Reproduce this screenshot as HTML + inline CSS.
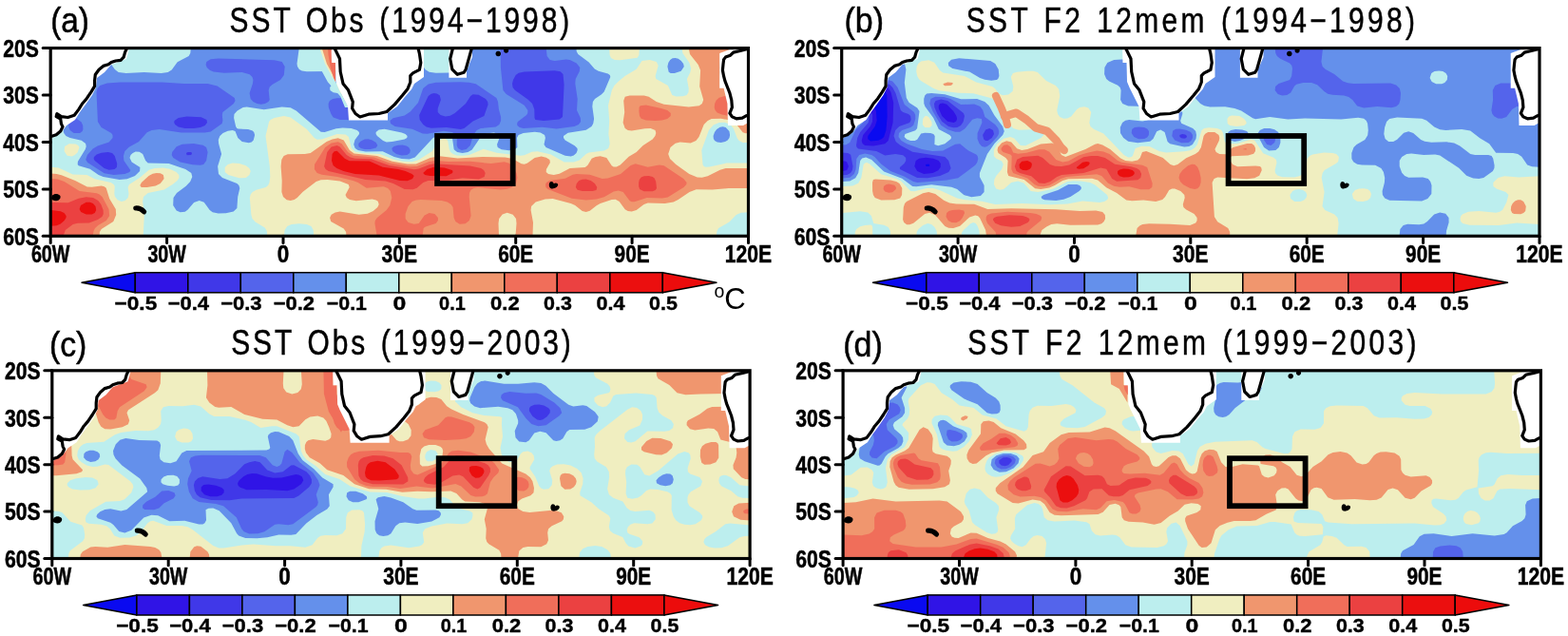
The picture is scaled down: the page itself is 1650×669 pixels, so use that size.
<!DOCTYPE html>
<html><head><meta charset="utf-8"><title>SST</title><style>
html,body{margin:0;padding:0;background:#fff;}
svg{display:block}
text{font-family:'Liberation Sans', Arial, Helvetica, sans-serif;fill:#000}
.ax{font-weight:bold;font-size:25px;stroke:#000;stroke-width:0.5px}
.tl{font-size:36.5px;stroke:#000;stroke-width:0.5px}
.cb{font-weight:bold;font-size:20.5px;stroke:#000;stroke-width:0.4px}
.deg{font-size:19.5px}
.degc{font-size:31px}
</style></head><body>
<svg width="1650" height="669" viewBox="0 0 1650 669">
<g transform="translate(0,0)">
<clipPath id="clipa"><rect x="53.2" y="50.6" width="734.3" height="197.70000000000002"/></clipPath>
<g clip-path="url(#clipa)">
<rect x="53.2" y="50.6" width="734.3" height="197.70000000000002" fill="#0a0af0"/>
<rect x="53.2" y="50.6" width="734.3" height="197.70000000000002" fill="#3014e6"/>
<rect x="53.2" y="50.6" width="734.3" height="197.70000000000002" fill="#4038e8"/>
<path fill="#5464eb" fill-rule="evenodd" d="M787.7,248.1 53.7,248.2 53.7,51.1 787.7,51.1 787.7,248.1ZM572.1,127.1 588.7,125.4 592.0,123.1 593.6,89.1 592.5,78.1 589.7,75.3 583.7,74.2 551.7,75.4 545.7,76.8 542.7,79.1 540.0,84.1 539.0,88.1 539.6,92.1 542.0,95.1 555.7,104.7 560.1,109.1 562.3,115.1 562.5,124.1 563.4,126.1 572.1,127.1ZM488.4,135.1 497.7,127.5 509.4,122.1 513.6,110.1 513.2,107.1 511.0,104.1 503.7,99.7 497.7,99.2 495.2,101.1 490.0,109.1 478.7,118.9 473.7,121.8 468.7,122.6 463.6,121.1 460.7,118.1 460.7,114.1 463.9,105.1 462.7,100.3 459.7,98.4 456.7,98.1 453.7,98.7 450.7,100.9 441.2,121.1 441.7,126.1 445.3,131.1 448.7,133.5 453.7,134.8 469.7,134.0 484.7,136.0 488.4,135.1ZM204.0,135.1 210.9,134.1 215.7,132.1 218.0,129.1 217.5,126.1 211.7,123.3 196.7,122.5 187.7,123.9 183.5,127.1 183.2,129.1 184.2,131.1 187.7,133.4 194.7,135.0 204.0,135.1ZM120.5,178.1 122.9,176.1 123.2,172.1 120.7,164.1 118.1,161.1 113.7,160.0 106.7,160.7 101.7,162.6 99.0,165.1 98.6,167.1 99.7,169.1 109.7,177.1 114.7,178.8 120.5,178.1ZM201.2,163.1 202.1,161.1 201.0,160.1 197.7,159.9 195.9,161.1 196.7,163.3 201.2,163.1Z"/>
<path fill="#6490eb" fill-rule="evenodd" d="M787.7,248.1 53.7,248.2 53.7,51.1 526.7,51.1 526.9,71.1 529.4,95.1 532.7,98.9 551.7,110.8 555.4,116.1 555.3,119.1 554.1,121.1 544.9,128.1 544.1,130.1 544.4,132.1 546.8,134.1 550.7,135.0 570.7,133.7 585.7,135.6 604.3,133.1 608.9,131.1 611.1,128.1 610.8,124.1 607.0,116.1 607.7,104.1 605.3,88.1 605.7,83.1 609.8,75.1 610.3,71.1 606.7,66.4 599.7,62.9 595.7,62.6 583.7,64.1 578.7,62.9 575.6,59.1 574.8,51.1 787.7,51.1 787.7,248.1ZM278.9,109.1 282.5,107.1 283.7,105.1 282.7,95.1 283.7,91.6 286.4,89.1 295.1,84.1 298.8,79.1 299.7,70.1 296.7,65.1 288.7,63.2 229.7,61.6 221.7,62.3 217.3,65.1 216.6,68.1 217.7,71.1 220.7,73.7 224.7,75.4 235.7,76.7 254.7,76.0 262.7,78.3 265.5,81.1 266.4,84.1 265.9,88.1 262.6,98.1 263.7,104.1 266.4,107.1 270.5,109.1 274.7,109.7 278.9,109.1ZM131.3,183.1 136.4,181.1 137.3,179.1 130.4,169.1 129.9,164.1 131.4,159.1 135.7,154.8 146.1,149.1 154.7,139.2 159.7,137.1 167.7,136.1 190.7,139.6 215.7,139.6 221.7,138.5 233.6,130.1 234.4,127.1 233.8,121.1 234.4,118.1 245.9,109.1 247.5,106.1 246.8,103.1 228.7,90.6 218.7,87.9 193.7,88.1 170.7,86.4 126.7,86.5 112.7,87.5 105.2,90.1 102.5,93.1 101.5,97.1 102.9,128.1 106.6,134.1 117.1,140.1 118.5,142.1 118.6,145.1 114.7,149.6 102.7,153.6 97.7,156.6 91.9,163.1 90.2,168.1 92.2,171.1 109.7,182.3 119.7,184.0 131.3,183.1ZM490.7,157.1 494.8,153.1 498.0,142.1 501.7,136.9 505.9,135.1 521.7,133.4 525.4,131.1 527.1,127.1 527.1,123.1 524.9,115.1 524.0,107.1 522.4,103.1 500.7,88.2 493.7,86.7 484.7,86.3 458.7,86.8 450.7,88.5 445.2,93.1 440.0,108.1 431.7,117.6 425.7,121.4 413.7,124.3 410.4,127.1 411.0,130.1 415.7,133.0 433.7,135.7 444.7,140.6 449.7,140.8 466.7,137.8 475.7,139.1 479.3,141.1 480.9,143.1 480.7,153.1 482.0,156.1 485.7,157.9 490.7,157.1ZM369.1,126.1 374.2,124.1 381.7,116.6 394.0,111.1 395.9,108.1 395.1,105.1 390.7,102.9 383.7,102.4 354.7,103.2 350.2,104.1 346.9,106.1 345.6,109.1 345.8,113.1 348.4,120.1 350.7,123.4 357.7,126.1 369.1,126.1ZM84.1,140.1 86.7,138.1 87.4,136.1 87.2,132.1 85.7,128.5 80.7,124.8 77.7,124.3 74.7,125.3 73.1,127.1 72.1,130.1 72.4,134.1 73.7,137.1 77.7,140.1 84.1,140.1ZM389.8,157.1 395.7,155.4 397.3,153.1 395.7,150.1 391.7,147.4 387.7,146.3 383.7,146.6 379.7,148.4 377.3,151.1 377.4,154.1 379.8,156.1 383.7,157.1 389.8,157.1ZM214.2,173.1 217.1,169.1 218.6,160.1 217.1,155.1 213.7,152.7 203.7,151.1 191.7,151.7 185.7,154.3 181.2,160.1 180.7,163.1 182.3,166.1 189.7,170.5 202.7,173.3 210.7,173.8 214.2,173.1ZM428.4,163.1 431.2,161.1 431.8,158.1 430.2,155.1 427.7,153.4 423.7,152.5 418.7,152.8 414.5,154.1 412.3,156.1 413.1,159.1 417.1,162.1 422.7,163.6 428.4,163.1Z"/>
<path fill="#bceeee" fill-rule="evenodd" d="M176.7,76.1 169.7,77.0 151.7,76.1 132.7,77.0 124.7,75.9 120.8,73.1 115.7,65.7 103.7,58.9 101.9,56.1 101.3,51.1 200.8,51.1 200.3,56.1 198.6,59.1 186.7,65.3 180.7,73.6 176.7,76.1ZM346.7,75.1 322.7,75.3 317.7,74.5 314.9,73.1 313.0,70.1 312.5,67.1 314.7,51.1 380.6,51.1 379.8,57.1 376.7,60.8 367.7,65.4 357.7,73.0 346.7,75.1ZM486.7,76.3 458.7,76.7 451.7,75.7 447.7,73.3 442.5,66.1 438.7,63.5 433.7,62.7 420.7,63.0 415.7,61.4 411.9,57.1 411.2,51.1 493.3,51.1 493.3,70.1 491.2,74.1 486.7,76.3ZM787.7,248.1 53.7,248.1 53.7,123.6 59.7,124.1 63.7,126.7 65.2,130.1 67.2,140.1 69.4,143.1 73.7,145.0 85.7,147.7 90.1,151.1 90.7,154.1 89.8,157.1 81.9,170.1 81.7,173.1 82.7,174.3 94.7,177.8 103.7,183.9 108.7,185.9 125.7,189.0 133.7,188.3 142.0,185.1 147.1,180.1 147.4,176.1 138.7,170.5 136.5,166.1 137.5,163.1 139.7,160.9 142.7,159.6 146.7,159.7 150.2,162.1 153.2,169.1 155.7,171.4 177.7,171.9 195.2,178.1 201.3,182.1 202.3,186.1 200.2,191.1 195.7,195.8 186.0,203.1 182.5,208.1 182.2,216.1 185.7,221.6 189.7,223.2 194.7,222.7 197.7,220.6 204.1,213.1 209.7,211.0 214.7,212.7 220.7,221.1 223.7,223.3 229.7,224.5 237.7,224.2 245.7,222.5 249.4,219.1 250.2,207.1 252.3,198.1 251.4,195.1 249.4,193.1 234.0,187.1 230.0,183.1 229.1,175.1 233.1,162.1 230.1,151.1 229.8,147.1 231.4,143.1 234.6,140.1 239.7,137.8 244.7,137.1 247.5,138.1 250.3,145.1 254.7,149.1 261.7,150.3 264.7,149.4 266.7,147.6 268.1,142.1 267.2,139.1 265.7,137.5 261.1,136.1 250.7,135.6 249.3,135.1 248.1,133.1 246.1,124.1 246.5,120.1 249.7,116.6 255.7,113.1 259.7,112.6 277.7,115.2 296.7,112.4 305.7,113.3 311.7,116.6 337.7,138.8 341.7,139.1 353.7,135.3 360.7,134.4 369.7,135.0 375.8,137.1 377.9,139.1 378.0,141.1 373.5,147.1 372.2,152.1 373.7,155.9 376.7,158.0 384.7,159.4 402.7,159.2 414.8,165.1 422.7,167.1 430.7,167.4 436.7,165.6 455.8,145.1 463.7,141.5 469.7,141.3 474.1,143.1 476.1,146.1 477.7,157.2 481.1,160.1 486.7,161.1 492.4,160.1 496.7,157.6 505.9,144.1 511.7,140.4 519.7,139.6 524.8,141.1 526.0,144.1 523.0,152.1 523.7,155.1 527.7,157.3 535.7,158.3 541.7,157.3 544.4,155.1 544.0,145.1 545.6,142.1 550.7,140.1 562.7,138.8 568.7,139.4 573.1,142.1 573.9,145.1 572.5,152.1 574.5,155.1 594.7,163.8 600.7,164.6 603.7,163.6 606.5,161.1 607.7,158.1 607.5,156.1 604.7,153.2 594.7,147.4 593.0,145.1 593.0,143.1 597.7,139.7 616.7,136.7 622.5,133.1 624.2,130.1 625.1,125.1 623.3,112.1 623.9,107.1 626.0,104.1 632.7,99.6 635.7,96.4 642.3,81.1 641.8,79.1 639.7,77.5 629.7,74.8 625.7,72.5 619.7,65.5 608.3,57.1 606.7,54.1 606.5,51.1 787.7,51.1 787.7,248.1ZM709.8,77.1 716.7,74.7 719.8,70.1 719.1,67.1 716.8,64.1 713.7,61.8 710.7,60.9 707.7,61.3 705.2,63.1 703.3,66.1 702.4,70.1 703.7,75.7 705.7,76.9 709.8,77.1ZM367.7,98.1 356.7,98.3 350.7,97.3 347.4,95.1 347.1,92.1 349.7,89.0 355.7,86.8 379.7,85.4 390.7,86.5 394.0,88.1 396.2,91.1 396.3,93.1 395.2,95.1 390.7,97.1 367.7,98.1ZM763.1,149.1 765.7,147.6 767.5,145.1 768.1,142.1 767.4,138.1 763.7,133.9 760.7,133.2 757.7,133.8 754.2,136.1 752.0,139.1 750.6,143.1 750.9,146.1 752.1,148.1 754.7,149.6 758.7,150.0 763.1,149.1ZM412.7,149.1 406.7,149.4 403.1,148.1 396.9,143.1 395.6,141.1 395.6,139.1 398.7,136.5 404.7,135.8 422.7,139.5 426.6,141.1 428.6,143.1 428.3,145.1 425.7,146.6 412.7,149.1Z"/>
<path fill="#f0eec0" fill-rule="evenodd" d="M652.7,63.2 646.7,63.0 643.0,61.1 641.6,58.1 641.2,51.1 672.9,51.1 672.4,58.1 670.7,60.7 652.7,63.2ZM753.7,248.1 330.2,248.1 329.7,242.1 327.5,238.1 322.7,235.9 314.7,235.2 306.7,236.1 302.3,238.1 299.6,242.1 299.0,248.1 281.2,248.1 280.8,243.1 278.7,239.4 268.7,233.5 265.5,230.1 264.4,226.1 262.8,208.1 263.7,204.5 265.7,201.9 269.7,199.7 279.7,197.1 282.1,195.1 283.5,192.1 284.3,186.1 283.8,175.1 279.5,143.1 283.1,128.1 284.7,125.9 288.7,123.9 298.7,122.1 305.7,123.5 322.9,136.1 330.7,145.0 333.7,146.7 338.7,146.5 354.7,141.0 363.7,141.6 366.9,144.1 369.7,155.8 373.7,159.4 380.7,161.1 399.7,162.1 413.7,167.6 423.7,169.7 433.7,170.2 440.8,168.1 454.8,159.1 461.3,148.1 466.7,145.6 469.7,146.4 471.2,148.1 472.8,157.1 474.2,160.1 476.7,162.1 480.7,163.4 486.7,163.8 493.7,163.0 508.7,156.7 522.7,160.8 547.7,163.7 551.7,163.2 559.7,159.8 565.7,159.3 579.7,162.5 593.7,170.5 603.7,170.6 609.7,168.6 616.7,162.1 619.7,160.4 635.7,158.5 640.3,156.1 641.7,151.1 640.4,141.1 641.2,127.1 640.0,111.1 643.8,95.1 646.4,90.1 650.7,85.7 657.6,80.1 669.7,72.7 675.5,64.1 683.7,63.1 690.8,65.1 692.7,69.1 689.6,80.1 690.3,83.1 702.9,90.1 707.3,100.1 711.7,101.4 718.7,101.2 722.7,99.9 724.5,97.1 724.7,93.1 722.9,83.1 726.4,76.1 727.2,72.1 725.4,66.1 718.4,56.1 717.6,51.1 787.7,51.1 787.7,150.1 781.7,149.9 777.7,148.1 775.7,145.2 771.8,135.1 768.5,131.1 762.7,128.8 756.7,128.9 750.7,131.5 745.9,137.1 738.3,158.1 739.5,173.1 740.7,174.9 742.7,175.7 746.7,175.6 764.7,171.5 787.7,171.5 787.7,223.2 779.7,223.7 774.7,226.1 767.7,233.3 756.1,240.1 754.5,243.1 753.7,248.1ZM75.7,164.4 70.7,163.7 67.6,159.1 68.1,154.1 72.7,151.2 79.7,151.6 82.3,153.1 83.5,155.1 81.7,160.3 78.7,163.1 75.7,164.4ZM258.7,187.1 251.7,187.3 240.3,184.1 236.7,181.0 236.7,176.1 239.7,173.0 244.7,171.5 251.7,171.9 258.4,174.1 262.4,177.1 263.7,180.1 262.5,184.1 258.7,187.1ZM150.7,248.1 53.7,248.1 53.7,175.7 61.7,176.6 76.7,183.6 91.5,184.1 99.7,188.3 116.7,192.1 119.7,194.1 120.8,196.1 120.3,204.1 121.1,207.1 123.7,210.2 127.7,212.0 131.7,211.1 134.7,208.0 135.5,204.1 134.6,197.1 136.0,194.1 146.7,187.2 156.7,178.7 162.7,176.9 171.7,176.5 178.7,177.8 185.5,181.1 188.3,184.1 188.5,187.1 186.5,190.1 181.6,194.1 172.7,199.5 155.7,203.0 151.0,207.1 150.1,212.1 151.9,225.1 150.7,248.1Z"/>
<path fill="#f0966e" fill-rule="evenodd" d="M559.7,248.1 542.5,248.1 543.5,235.1 543.0,230.1 539.7,225.7 533.7,223.8 528.7,225.5 525.2,230.1 524.5,235.1 525.0,248.1 364.4,248.1 364.1,244.1 361.7,240.4 348.2,233.1 347.1,229.1 348.7,225.8 352.7,223.4 357.7,222.6 377.7,225.7 386.7,224.8 392.7,221.9 397.3,218.1 398.7,215.1 397.7,211.8 395.7,210.4 391.7,209.6 374.7,211.2 368.0,210.1 364.9,208.1 363.5,205.1 367.7,197.1 366.7,194.1 357.7,190.5 344.7,188.9 337.7,189.3 332.7,191.1 318.7,201.7 312.7,208.1 309.7,210.1 305.7,210.9 301.7,210.2 298.0,207.1 296.4,202.1 296.7,190.1 295.6,175.1 296.3,168.1 298.6,164.1 302.7,162.2 320.7,162.1 326.7,161.0 343.7,149.1 349.7,146.4 355.7,145.3 361.7,147.4 367.9,158.1 372.7,161.6 396.7,164.0 412.7,169.7 428.7,172.6 437.7,172.4 452.7,166.1 462.7,164.3 481.7,166.5 507.7,165.0 531.7,165.4 539.3,167.1 548.7,172.3 551.7,172.8 554.7,171.8 562.7,165.9 569.7,164.6 574.7,165.7 578.4,168.1 578.9,171.1 574.9,178.1 574.7,181.1 577.0,183.1 582.7,183.9 588.7,182.8 599.7,176.9 615.7,175.9 618.3,174.1 622.7,166.7 626.7,164.9 631.7,164.3 638.3,166.1 643.7,174.3 645.7,175.5 648.7,175.5 652.7,173.5 661.7,164.8 669.7,160.1 676.7,153.1 686.7,146.4 689.4,143.1 690.3,140.1 689.5,137.1 684.7,135.1 678.7,135.2 664.7,137.4 660.7,136.9 657.7,135.1 655.6,129.1 657.2,118.1 656.2,106.1 657.7,101.7 662.7,100.4 677.7,100.6 682.7,101.7 690.7,107.1 698.7,109.7 724.7,112.4 735.7,111.3 738.8,109.1 740.2,105.1 736.2,91.1 737.1,74.1 734.7,68.1 726.0,57.1 724.8,51.1 787.7,51.1 787.7,140.1 784.7,140.3 781.7,139.3 774.3,130.1 768.7,126.6 758.7,124.7 748.7,125.1 744.7,127.1 740.7,131.1 735.5,144.1 732.4,148.1 726.7,150.4 715.7,149.6 710.7,150.7 705.5,155.1 703.2,162.1 705.0,167.1 711.3,173.1 725.3,183.1 733.7,186.6 738.7,186.7 744.7,185.3 757.7,178.8 763.7,177.0 787.7,177.1 787.7,198.1 766.7,198.1 749.7,199.6 732.7,199.2 725.5,202.1 713.7,210.1 708.7,212.5 699.7,214.0 681.7,213.4 677.6,215.1 669.7,221.0 664.7,222.5 660.7,221.9 657.7,220.2 651.7,212.0 647.7,209.7 643.7,210.1 631.7,214.1 627.7,216.2 620.7,221.8 616.7,222.9 612.7,222.0 605.2,216.1 600.7,214.1 581.7,209.0 573.7,209.5 563.7,212.6 559.1,217.1 558.6,221.1 561.0,234.1 560.5,248.1 559.7,248.1ZM154.7,197.1 148.7,197.1 147.3,195.1 148.9,192.1 156.5,185.1 160.7,182.7 164.7,181.9 168.7,182.3 171.9,184.1 172.6,188.1 168.7,193.1 163.7,195.5 154.7,197.1ZM103.7,248.1 53.7,248.1 53.7,182.5 59.7,182.9 64.7,184.3 79.1,190.1 91.7,196.5 96.7,196.8 106.7,195.6 109.7,196.2 111.7,197.7 115.2,209.1 121.8,220.1 122.2,226.1 119.3,233.1 106.7,241.1 104.9,244.1 104.6,248.1 103.7,248.1Z"/>
<path fill="#f06e5a" fill-rule="evenodd" d="M787.7,126.9 782.7,126.7 774.7,123.5 759.7,120.5 754.7,118.4 752.6,116.1 751.7,113.1 752.1,109.1 753.7,105.6 756.7,102.7 762.7,100.9 787.7,100.3 787.7,126.9ZM689.7,127.1 679.7,126.5 674.7,124.8 673.0,122.1 672.4,117.1 672.6,113.1 673.7,111.3 679.7,110.4 695.8,114.1 702.3,116.1 705.8,119.1 705.7,122.1 702.2,125.1 696.7,126.6 689.7,127.1ZM443.7,248.1 396.6,248.1 394.4,235.1 394.8,232.1 396.9,229.1 406.7,221.1 410.3,216.1 412.3,208.1 410.8,201.1 408.1,198.1 403.7,196.2 385.7,197.8 376.7,192.1 371.5,190.1 355.1,186.1 338.7,183.7 333.7,182.0 330.9,178.1 331.0,173.1 342.2,155.1 348.7,150.4 355.7,149.3 359.7,151.2 366.1,160.1 371.7,163.8 393.7,165.6 409.7,171.4 431.7,175.3 438.7,174.9 451.7,170.0 458.7,169.0 471.7,170.0 494.7,169.8 516.7,172.0 530.7,170.2 535.7,171.7 539.4,175.1 543.5,182.1 544.4,187.1 542.9,193.1 538.7,197.0 533.7,198.7 526.7,199.4 502.7,197.2 498.4,198.1 495.4,200.1 494.0,203.1 493.7,207.1 495.6,227.1 493.8,232.1 489.7,235.2 483.7,235.7 479.3,233.1 477.6,229.1 476.6,218.1 474.6,215.1 470.7,212.5 464.7,211.1 442.7,210.0 437.7,210.4 433.7,212.1 429.5,217.1 426.6,225.1 426.7,230.2 429.7,234.0 435.7,235.7 440.7,235.0 446.7,226.5 451.7,223.9 457.4,225.1 460.9,229.1 460.9,232.1 458.7,234.9 447.7,238.5 445.7,240.1 444.6,248.1 443.7,248.1ZM667.7,212.3 664.7,212.3 662.7,211.3 655.7,202.1 650.7,200.5 645.7,201.4 635.7,207.2 627.7,209.4 616.7,210.6 601.7,208.8 576.5,199.1 574.4,197.1 574.0,194.1 575.0,192.1 578.2,190.1 594.7,187.8 602.7,183.7 606.7,182.9 620.7,183.8 633.7,187.9 639.7,187.5 653.1,183.1 663.7,173.9 668.7,172.3 681.7,175.7 693.7,173.6 698.7,174.3 719.3,188.1 722.6,192.1 722.3,194.1 719.5,197.1 702.7,207.5 696.7,208.6 680.7,208.0 667.7,212.3ZM97.7,248.1 53.7,248.1 53.7,188.1 60.7,188.6 67.7,191.0 83.7,201.0 101.7,203.3 104.7,204.5 107.7,207.3 114.5,220.1 115.2,227.1 111.8,232.1 103.3,237.1 100.0,240.1 98.5,243.1 97.7,248.1Z"/>
<path fill="#eb4141" fill-rule="evenodd" d="M434.7,199.3 425.7,198.9 413.8,193.1 405.7,190.5 384.7,188.9 345.7,179.9 342.6,178.1 341.1,175.1 344.3,160.1 348.7,154.6 354.7,153.1 357.7,154.6 364.7,163.0 368.7,165.6 373.7,166.8 390.7,167.2 409.7,173.9 435.7,178.3 440.7,177.6 451.7,173.2 456.7,172.3 494.7,174.6 506.2,177.1 509.1,179.1 510.7,182.1 509.7,186.1 503.7,188.6 486.7,187.3 471.7,189.7 450.6,190.1 445.3,192.1 438.7,197.8 434.7,199.3ZM686.7,201.2 677.7,201.3 673.1,199.1 672.1,196.1 672.1,192.1 672.8,189.1 674.7,186.5 677.7,185.2 682.7,185.0 686.7,185.9 688.7,187.5 690.2,191.1 691.0,198.1 689.7,200.1 686.7,201.2ZM623.7,201.1 612.7,200.9 607.7,199.8 605.8,197.1 606.8,193.1 609.3,190.1 612.7,188.7 616.7,188.5 621.7,190.0 625.9,193.1 628.3,197.1 627.5,200.1 623.7,201.1ZM66.7,248.1 53.7,248.1 53.7,212.9 71.7,213.2 82.7,208.7 90.7,207.3 98.0,208.1 103.3,211.1 106.3,215.1 108.6,221.1 108.8,225.1 107.4,228.1 102.9,231.1 93.7,234.4 81.7,234.8 76.7,236.1 68.8,242.1 66.7,248.1Z"/>
<path fill="#eb0f0f" fill-rule="evenodd" d="M428.7,190.2 420.7,189.9 398.7,184.5 373.7,183.1 361.5,180.1 354.4,177.1 350.6,174.1 349.0,169.1 349.6,162.1 351.7,159.3 354.7,158.8 362.7,166.7 367.7,169.2 388.7,169.6 402.7,175.8 419.1,178.1 426.7,180.1 433.5,183.1 435.7,185.1 434.1,188.1 428.7,190.2ZM469.7,185.2 452.6,185.1 447.1,184.1 445.2,182.1 449.5,178.1 456.7,175.7 467.7,176.5 475.7,179.1 476.5,180.1 476.1,182.1 469.7,185.2ZM96.7,225.4 90.7,225.5 85.2,223.1 83.6,220.1 85.0,216.1 90.7,212.8 94.7,212.7 97.9,214.1 100.5,217.1 101.2,221.1 99.7,223.9 96.7,225.4ZM59.7,237.2 53.7,237.8 53.7,221.0 63.7,222.2 67.5,224.1 69.7,227.1 69.6,229.1 67.7,232.1 63.7,235.4 59.7,237.2Z"/>
<polygon fill="#bceeee" points="330.0,50.6 353.0,50.6 353.0,86.0 357.0,95.0 362.0,104.0 367.0,113.0 363.0,113.0 358.3,101.6 344.9,86.3 334.4,67.1 330.0,60.0"/>
<polygon fill="#f0eec0" points="336.3,50.6 353.0,50.6 353.0,86.0 357.0,95.0 362.0,104.0 364.5,108.0 360.2,97.8 355.4,90.1 348.7,79.6 342.0,67.1"/>
<polygon fill="#f0966e" points="338.7,50.6 353.0,50.6 353.5,86.3 350.6,79.6 343.9,67.1"/>
<polygon fill="#f06e5a" points="345.0,50.6 349.0,50.6 349.0,66.0 353.0,66.0 353.0,86.0 351.0,82.0 347.5,70.0 345.5,58.0"/>
<polygon fill="#fff" points="348.7,50.6 348.7,55.0 349.0,66.0 353.0,66.0 353.5,86.0 356.0,92.0 362.0,104.0 366.0,112.0 367.0,126.5 408.0,126.5 408.0,119.0 418.0,112.0 426.0,102.0 433.0,94.0 436.0,88.0 446.0,81.0 446.0,50.6"/>
<polygon fill="#fff" points="472.4,50.6 472.4,81.7 491.0,81.7 491.0,74.0 497.0,60.0 497.0,50.6"/>
<polygon fill="#fff" points="787.5,50.6 772.0,50.6 757.2,56.0 757.2,92.8 761.6,92.8 765.4,109.0 766.0,132.0 782.0,132.0 787.5,129.0"/>
<polygon fill="#fff" points="53.2,50.6 136.0,50.6 133.0,62.0 117.0,68.0 110.0,76.0 102.0,82.0 101.0,92.0 97.0,100.0 90.0,110.0 84.0,118.0 79.0,126.0 70.0,132.0 64.0,140.0 53.2,146.0"/>
<polygon fill="#fff" points="133.6,50.6 131.6,54.9 130.1,60.2 127.0,63.3 121.7,64.0 117.1,65.5 114.1,67.8 108.7,69.4 104.1,73.2 100.3,78.5 99.6,84.6 99.6,90.7 95.8,96.8 91.2,103.7 86.6,109.0 82.8,115.1 78.2,121.2 71.4,123.5 64.5,122.7 59.9,119.7 59.2,122.7 63.7,125.0 64.5,130.4 66.0,133.4 63.7,138.0 59.2,141.8 54.6,143.3 53.2,143.8 53.2,50.6"/>
<polyline fill="none" stroke="#000" stroke-width="3.2" stroke-linejoin="round" stroke-linecap="round" points="133.6,50.6 131.6,54.9 130.1,60.2 127.0,63.3 121.7,64.0 117.1,65.5 114.1,67.8 108.7,69.4 104.1,73.2 100.3,78.5 99.6,84.6 99.6,90.7 95.8,96.8 91.2,103.7 86.6,109.0 82.8,115.1 78.2,121.2 71.4,123.5 64.5,122.7 59.9,119.7 59.2,122.7 63.7,125.0 64.5,130.4 66.0,133.4 63.7,138.0 59.2,141.8 54.6,143.3 53.2,143.8"/>
<polygon fill="#fff" points="352.0,50.6 357.5,61.8 358.2,75.5 361.0,87.9 366.5,94.8 371.3,107.1 370.6,114.0 374.0,119.5 378.8,123.0 387.8,120.2 398.8,119.5 407.0,117.5 415.3,109.9 423.5,100.3 429.0,93.4 431.8,86.5 431.8,79.6 434.5,76.9 441.4,73.4 442.8,65.9 441.4,56.3 440.0,50.6"/>
<polyline fill="none" stroke="#000" stroke-width="3.2" stroke-linejoin="round" stroke-linecap="round" points="352.0,50.6 357.5,61.8 358.2,75.5 361.0,87.9 366.5,94.8 371.3,107.1 370.6,114.0 374.0,119.5 378.8,123.0 387.8,120.2 398.8,119.5 407.0,117.5 415.3,109.9 423.5,100.3 429.0,93.4 431.8,86.5 431.8,79.6 434.5,76.9 441.4,73.4 442.8,65.9 441.4,56.3 440.0,50.6"/>
<polygon fill="#fff" points="476.5,50.6 473.7,61.8 475.8,72.8 481.3,78.3 488.2,76.2 490.2,72.8 493.7,60.4 496.4,50.6"/>
<polyline fill="none" stroke="#000" stroke-width="3.2" stroke-linejoin="round" stroke-linecap="round" points="476.5,50.6 473.7,61.8 475.8,72.8 481.3,78.3 488.2,76.2 490.2,72.8 493.7,60.4 496.4,50.6"/>
<polygon fill="#fff" points="787.5,51.3 779.9,53.2 771.7,55.1 768.6,58.2 763.5,60.1 761.6,62.6 761.0,67.6 760.4,73.9 761.6,80.2 762.9,85.2 765.4,91.5 767.9,97.8 769.8,105.3 770.4,112.9 767.9,119.2 770.4,122.9 774.8,124.8 781.1,124.2 785.5,121.7 787.5,121.0"/>
<polyline fill="none" stroke="#000" stroke-width="3.2" stroke-linejoin="round" stroke-linecap="round" points="787.5,51.3 779.9,53.2 771.7,55.1 768.6,58.2 763.5,60.1 761.6,62.6 761.0,67.6 760.4,73.9 761.6,80.2 762.9,85.2 765.4,91.5 767.9,97.8 769.8,105.3 770.4,112.9 767.9,119.2 770.4,122.9 774.8,124.8 781.1,124.2 785.5,121.7 787.5,121.0"/>
<path d="M55,205.5 C57,203.5 61,203.3 63.2,205.8 C64.5,208 62.5,211.2 59,211.3 C56.5,211.3 54.5,210 53.5,209 Z" fill="#000"/>
<path d="M142.8,219 C145.5,218.8 149,220 151.6,222.8" fill="none" stroke="#000" stroke-width="5.2" stroke-linecap="round"/>
<path d="M578.3,192.3 C579.5,190.3 582,190.8 582.8,193.2 C584.2,191.8 587.3,192.3 587.2,194.6 C586.8,197.2 583.2,198.8 580.2,198.4 C577.8,198 577.3,194.2 578.3,192.3 Z" fill="#000"/>
<path d="M524.3,53.7 a2.8,2.8 0 1,0 0.01,0 Z" fill="#000"/>
<path d="M532.6,50.5 a2.6,2.6 0 1,0 0.01,0 Z" fill="#000"/>
</g>
<rect x="460.1" y="143" width="79.6" height="50" fill="none" stroke="#000" stroke-width="5.8"/>
<rect x="53.2" y="50.6" width="734.3" height="197.70000000000002" fill="none" stroke="#000" stroke-width="3.2"/>
<line x1="45.2" y1="50.6" x2="53.2" y2="50.6" stroke="#000" stroke-width="3" stroke-linecap="round"/>
<text x="41" y="60.0" text-anchor="end" class="ax" textLength="37.7" lengthAdjust="spacingAndGlyphs">20S</text>
<line x1="45.2" y1="100.025" x2="53.2" y2="100.025" stroke="#000" stroke-width="3" stroke-linecap="round"/>
<text x="41" y="109.4" text-anchor="end" class="ax" textLength="37.7" lengthAdjust="spacingAndGlyphs">30S</text>
<line x1="45.2" y1="149.45000000000002" x2="53.2" y2="149.45000000000002" stroke="#000" stroke-width="3" stroke-linecap="round"/>
<text x="41" y="158.9" text-anchor="end" class="ax" textLength="37.7" lengthAdjust="spacingAndGlyphs">40S</text>
<line x1="45.2" y1="198.87500000000003" x2="53.2" y2="198.87500000000003" stroke="#000" stroke-width="3" stroke-linecap="round"/>
<text x="41" y="208.3" text-anchor="end" class="ax" textLength="37.7" lengthAdjust="spacingAndGlyphs">50S</text>
<line x1="45.2" y1="248.3" x2="53.2" y2="248.3" stroke="#000" stroke-width="3" stroke-linecap="round"/>
<text x="41" y="257.7" text-anchor="end" class="ax" textLength="37.7" lengthAdjust="spacingAndGlyphs">60S</text>
<line x1="53.2" y1="248.3" x2="53.2" y2="255.6" stroke="#000" stroke-width="3" stroke-linecap="round"/>
<text x="53.2" y="276.2" text-anchor="middle" class="ax" textLength="40.6" lengthAdjust="spacingAndGlyphs">60W</text>
<line x1="175.6" y1="248.3" x2="175.6" y2="255.6" stroke="#000" stroke-width="3" stroke-linecap="round"/>
<text x="175.6" y="276.2" text-anchor="middle" class="ax" textLength="40.4" lengthAdjust="spacingAndGlyphs">30W</text>
<line x1="298.0" y1="248.3" x2="298.0" y2="255.6" stroke="#000" stroke-width="3" stroke-linecap="round"/>
<text x="298.0" y="276.2" text-anchor="middle" class="ax" textLength="12.5" lengthAdjust="spacingAndGlyphs">0</text>
<line x1="420.3" y1="248.3" x2="420.3" y2="255.6" stroke="#000" stroke-width="3" stroke-linecap="round"/>
<text x="420.3" y="276.2" text-anchor="middle" class="ax" textLength="37.4" lengthAdjust="spacingAndGlyphs">30E</text>
<line x1="542.7" y1="248.3" x2="542.7" y2="255.6" stroke="#000" stroke-width="3" stroke-linecap="round"/>
<text x="542.7" y="276.2" text-anchor="middle" class="ax" textLength="37.0" lengthAdjust="spacingAndGlyphs">60E</text>
<line x1="665.1" y1="248.3" x2="665.1" y2="255.6" stroke="#000" stroke-width="3" stroke-linecap="round"/>
<text x="665.1" y="276.2" text-anchor="middle" class="ax" textLength="37.0" lengthAdjust="spacingAndGlyphs">90E</text>
<line x1="787.5" y1="248.3" x2="787.5" y2="255.6" stroke="#000" stroke-width="3" stroke-linecap="round"/>
<text x="787.5" y="276.2" text-anchor="middle" class="ax" textLength="49.4" lengthAdjust="spacingAndGlyphs">120E</text>
<text x="53.2" y="34.2" class="tl" textLength="40.8" lengthAdjust="spacingAndGlyphs">(a)</text>
<text transform="translate(420.4,34.2) scale(0.82,1)" text-anchor="middle" class="tl" textLength="436.1" lengthAdjust="spacing" word-spacing="3">SST Obs (1994−1998)</text>
<path d="M86,297.25 L142.3,286.7 L142.3,307.8 Z" fill="#0a0af0" stroke="#000" stroke-width="1.5" stroke-linejoin="round"/>
<rect x="142.3" y="286.7" width="55.5" height="21.100000000000023" fill="#3014e6" stroke="#000" stroke-width="1.5"/>
<rect x="197.8" y="286.7" width="55.5" height="21.100000000000023" fill="#4038e8" stroke="#000" stroke-width="1.5"/>
<rect x="253.3" y="286.7" width="55.5" height="21.100000000000023" fill="#5464eb" stroke="#000" stroke-width="1.5"/>
<rect x="308.8" y="286.7" width="55.5" height="21.100000000000023" fill="#6490eb" stroke="#000" stroke-width="1.5"/>
<rect x="364.3" y="286.7" width="55.5" height="21.100000000000023" fill="#bceeee" stroke="#000" stroke-width="1.5"/>
<rect x="419.8" y="286.7" width="55.5" height="21.100000000000023" fill="#f0eec0" stroke="#000" stroke-width="1.5"/>
<rect x="475.3" y="286.7" width="55.5" height="21.100000000000023" fill="#f0966e" stroke="#000" stroke-width="1.5"/>
<rect x="530.8" y="286.7" width="55.5" height="21.100000000000023" fill="#f06e5a" stroke="#000" stroke-width="1.5"/>
<rect x="586.3" y="286.7" width="55.5" height="21.100000000000023" fill="#eb4141" stroke="#000" stroke-width="1.5"/>
<rect x="641.8" y="286.7" width="55.5" height="21.100000000000023" fill="#eb0f0f" stroke="#000" stroke-width="1.5"/>
<path d="M754,297.25 L697.3,286.7 L697.3,307.8 Z" fill="#ec0c0c" stroke="#000" stroke-width="1.5" stroke-linejoin="round"/>
<text x="142.9" y="326" text-anchor="middle" class="cb" textLength="44.7" lengthAdjust="spacingAndGlyphs">−0.5</text>
<text x="198.4" y="326" text-anchor="middle" class="cb" textLength="43.5" lengthAdjust="spacingAndGlyphs">−0.4</text>
<text x="253.9" y="326" text-anchor="middle" class="cb" textLength="43.5" lengthAdjust="spacingAndGlyphs">−0.3</text>
<text x="309.4" y="326" text-anchor="middle" class="cb" textLength="43.5" lengthAdjust="spacingAndGlyphs">−0.2</text>
<text x="364.9" y="326" text-anchor="middle" class="cb" textLength="42.1" lengthAdjust="spacingAndGlyphs">−0.1</text>
<text x="420.4" y="326" text-anchor="middle" class="cb" textLength="13.8" lengthAdjust="spacingAndGlyphs">0</text>
<text x="475.9" y="326" text-anchor="middle" class="cb" textLength="27.6" lengthAdjust="spacingAndGlyphs">0.1</text>
<text x="531.4" y="326" text-anchor="middle" class="cb" textLength="30.6" lengthAdjust="spacingAndGlyphs">0.2</text>
<text x="586.9" y="326" text-anchor="middle" class="cb" textLength="29.8" lengthAdjust="spacingAndGlyphs">0.3</text>
<text x="642.4" y="326" text-anchor="middle" class="cb" textLength="30.0" lengthAdjust="spacingAndGlyphs">0.4</text>
<text x="697.9" y="326" text-anchor="middle" class="cb" textLength="29.8" lengthAdjust="spacingAndGlyphs">0.5</text>
<text x="751.6" y="313.2" class="deg">o</text><text x="762.2" y="325" class="degc">C</text>
</g>
<g transform="translate(832.5,0)">
<clipPath id="clipb"><rect x="53.2" y="50.6" width="734.3" height="197.70000000000002"/></clipPath>
<g clip-path="url(#clipb)">
<rect x="53.2" y="50.6" width="734.3" height="197.70000000000002" fill="#0a0af0"/>
<path fill="#3014e6" fill-rule="evenodd" d="M787.7,248.1 53.7,248.1 53.7,109.2 77.7,108.4 83.7,109.7 87.7,112.5 89.4,117.1 90.2,127.1 88.2,133.1 80.8,143.1 80.7,146.2 83.7,148.4 91.7,147.8 95.5,146.1 97.6,144.1 99.9,137.1 101.1,123.1 100.8,100.1 98.1,94.1 91.7,91.5 76.7,92.1 70.7,91.1 68.0,89.1 62.7,80.3 58.7,78.6 53.7,78.4 53.7,51.1 787.7,51.1 787.7,248.1ZM145.1,175.1 145.9,174.1 144.7,172.4 141.5,173.1 142.0,175.1 145.1,175.1Z"/>
<path fill="#4038e8" fill-rule="evenodd" d="M787.7,248.1 53.7,248.1 53.7,179.9 58.7,179.0 60.5,175.1 58.7,170.6 56.7,169.4 53.7,169.3 53.7,113.1 74.7,111.8 79.7,112.8 83.0,115.1 85.6,121.1 85.5,128.1 83.2,133.1 75.7,142.1 74.2,148.1 75.1,151.1 77.7,153.0 86.7,153.6 98.7,151.3 102.2,148.1 107.1,129.1 107.7,108.1 105.0,97.1 102.6,93.1 99.7,90.8 93.7,89.0 79.7,89.4 74.7,88.5 71.0,86.1 66.8,80.1 63.7,77.5 59.7,76.2 53.7,75.9 53.7,51.1 787.7,51.1 787.7,248.1ZM171.2,129.1 173.7,127.6 174.6,125.1 173.9,122.1 170.8,117.1 163.7,109.8 159.7,108.4 156.7,109.1 155.3,111.1 155.2,114.1 158.7,122.1 164.7,127.8 171.2,129.1ZM149.1,182.1 154.7,179.3 157.2,176.1 157.3,172.1 155.2,169.1 149.7,166.7 141.7,165.8 134.7,166.7 131.2,169.1 129.8,175.1 132.7,180.1 139.7,182.9 149.1,182.1Z"/>
<path fill="#5464eb" fill-rule="evenodd" d="M787.7,248.1 53.7,248.1 53.7,184.3 58.7,184.0 62.5,182.1 64.4,179.1 65.0,175.1 62.7,162.8 59.7,160.9 53.7,160.5 53.7,116.8 74.7,115.2 78.7,116.7 81.4,120.1 82.1,124.1 81.2,129.1 72.7,139.1 69.7,145.1 68.5,153.1 69.1,155.1 70.7,156.5 89.7,159.1 98.7,163.4 109.7,162.0 117.7,163.2 120.7,166.0 120.8,169.1 119.0,172.1 114.4,176.1 114.5,178.1 132.7,187.0 143.7,187.3 156.6,185.1 165.8,181.1 168.1,177.1 165.7,169.1 161.8,165.1 127.7,159.7 114.7,152.7 110.2,149.1 108.0,143.1 109.7,136.9 113.7,132.9 124.7,129.1 126.2,126.1 125.6,122.1 123.5,120.1 117.7,117.9 115.3,116.1 110.0,98.1 106.7,92.1 103.7,89.1 95.7,86.4 77.7,86.5 73.7,84.4 68.7,77.8 65.7,75.4 60.7,73.8 53.7,73.5 53.7,51.1 787.7,51.1 787.7,248.1ZM174.8,134.1 178.5,132.1 181.2,128.1 182.5,122.1 181.4,119.1 164.7,106.1 157.7,104.5 152.1,106.1 150.5,109.1 150.9,113.1 153.9,120.1 158.7,127.8 165.7,132.9 170.7,134.2 174.8,134.1ZM207.0,148.1 211.3,145.1 213.5,141.1 212.5,137.1 208.7,134.9 204.7,136.6 201.6,142.1 202.7,146.5 204.7,148.1 207.0,148.1ZM415.9,145.1 416.5,143.1 414.7,141.6 411.7,141.0 408.8,142.1 409.0,144.1 410.7,145.3 413.7,145.8 415.9,145.1Z"/>
<path fill="#6490eb" fill-rule="evenodd" d="M787.7,248.1 53.7,248.1 53.7,187.6 61.7,186.7 66.3,183.1 68.1,178.1 68.8,167.1 71.7,163.1 77.7,161.6 84.7,163.0 87.8,165.1 94.7,172.6 104.7,180.1 118.7,185.4 128.7,191.1 132.7,191.9 163.7,189.6 175.7,187.2 193.7,173.8 195.7,171.1 196.8,167.1 196.1,164.1 194.7,162.4 186.7,158.6 177.7,151.3 172.7,151.7 159.7,158.4 148.7,159.1 137.6,157.1 121.7,151.3 116.0,148.1 113.0,144.1 113.5,140.1 116.7,137.1 125.7,134.1 128.7,131.8 130.8,125.1 130.7,121.1 129.4,118.1 119.3,110.1 112.1,92.1 106.7,85.4 99.7,83.3 84.7,84.5 79.2,84.1 75.7,82.1 71.3,75.1 68.7,72.7 63.7,71.3 53.7,70.9 53.7,51.1 509.3,51.1 509.8,56.1 511.3,59.1 514.7,61.8 524.7,66.4 526.8,69.1 527.5,72.1 526.7,80.1 524.7,84.0 513.0,88.1 509.6,91.1 509.1,95.1 512.2,99.1 516.7,100.6 521.7,100.1 525.7,97.5 529.7,90.5 531.7,88.7 538.7,87.1 547.7,87.0 553.7,89.3 560.8,96.1 564.7,98.7 569.7,99.8 581.7,100.4 586.7,101.9 590.7,105.1 595.7,111.5 602.7,113.4 616.7,112.1 631.7,113.2 636.7,112.1 639.7,109.3 641.0,105.1 641.5,98.1 640.3,93.1 636.7,89.5 630.7,87.6 591.7,87.9 585.7,87.3 580.7,85.4 571.6,78.1 562.4,73.1 559.2,70.1 557.9,65.1 559.5,51.1 787.7,51.1 787.7,74.7 780.7,75.0 775.7,76.7 768.6,85.1 764.7,87.6 746.7,87.6 740.8,90.1 738.3,95.1 738.6,105.1 736.9,116.1 737.7,119.6 739.7,122.3 743.7,124.5 747.7,124.8 752.7,122.9 758.7,114.9 763.7,111.9 769.7,111.4 787.7,112.7 787.7,248.1ZM206.2,154.1 209.7,151.6 216.7,144.1 218.5,141.1 218.8,138.1 217.7,134.8 214.7,131.0 203.9,123.1 201.8,116.1 198.9,112.1 192.7,109.5 178.7,110.1 167.7,104.0 160.7,101.9 151.7,101.8 146.9,104.1 145.8,109.1 149.0,117.1 157.7,131.7 164.7,136.3 172.7,138.8 177.7,138.7 182.7,135.6 190.7,125.7 195.7,124.2 200.5,125.1 200.9,129.1 196.1,140.1 196.0,146.1 198.0,151.1 200.7,154.0 203.7,154.8 206.2,154.1ZM57.7,152.2 53.7,152.4 53.7,122.4 59.7,122.0 69.7,119.3 75.2,120.1 77.4,123.1 76.6,128.1 67.8,137.1 61.7,149.9 57.7,152.2ZM371.7,146.1 374.7,144.6 376.4,142.1 376.5,138.1 374.7,135.5 371.5,134.1 365.7,133.5 361.4,134.1 358.7,136.0 358.2,140.1 360.8,144.1 365.7,146.2 371.7,146.1ZM418.1,150.1 421.0,148.1 422.5,145.1 422.5,142.1 420.6,139.1 415.7,136.7 408.7,135.5 404.7,135.7 401.7,137.6 400.8,143.1 403.7,147.5 410.7,150.3 418.1,150.1ZM472.3,145.1 474.8,142.1 472.7,139.8 467.7,139.4 465.6,140.1 463.9,142.1 464.1,144.1 466.7,145.7 472.3,145.1ZM504.9,153.1 508.7,150.1 509.5,147.1 509.0,144.1 505.7,140.6 500.6,140.1 497.1,143.1 497.4,147.1 500.7,152.0 504.9,153.1Z"/>
<path fill="#bceeee" fill-rule="evenodd" d="M787.7,248.1 689.2,248.1 689.5,243.1 692.1,234.1 692.0,229.1 688.7,224.8 682.7,223.5 676.7,225.4 669.4,233.1 665.7,235.5 660.7,236.2 648.7,235.7 644.2,237.1 640.9,241.1 640.1,248.1 53.7,248.1 53.7,191.0 61.7,190.4 67.7,187.3 70.7,182.1 72.7,169.0 74.7,166.6 78.7,165.6 84.6,168.1 97.7,180.5 116.7,187.8 127.7,195.9 131.7,196.3 147.7,194.2 168.7,196.8 174.7,199.0 181.7,205.1 189.7,207.3 199.4,206.1 203.1,202.1 203.1,195.1 198.4,186.1 198.4,182.1 206.4,162.1 214.0,151.1 222.7,142.1 224.3,138.1 222.6,133.1 213.7,121.1 208.1,111.1 203.7,107.0 195.7,104.1 178.7,104.3 161.7,99.3 147.7,97.9 142.7,98.6 140.7,100.6 139.7,104.1 139.8,109.1 140.9,112.1 149.7,123.9 155.4,136.1 166.8,142.1 168.5,144.1 168.2,146.1 161.7,151.3 154.7,153.2 150.9,152.1 151.2,143.1 149.8,141.1 146.7,139.9 140.7,139.7 136.7,140.6 132.7,146.8 130.2,148.1 125.7,148.1 121.7,146.6 119.1,144.1 119.9,141.1 130.7,137.3 132.6,135.1 135.0,117.1 132.7,113.4 124.2,108.1 121.3,103.1 119.3,87.1 120.9,73.1 119.7,68.1 116.7,65.3 107.7,61.7 103.9,59.1 101.9,56.1 101.2,51.1 380.2,51.1 379.0,58.1 376.7,60.7 373.7,62.3 365.7,63.6 347.7,62.5 339.7,63.0 332.8,66.1 329.9,71.1 329.6,78.1 331.7,83.1 334.7,85.6 343.7,89.7 346.2,92.1 347.1,95.1 346.6,105.1 348.7,108.9 354.7,111.4 372.7,112.1 377.7,114.7 379.9,118.1 378.9,123.1 374.7,126.6 369.7,127.4 355.7,125.9 351.7,126.8 348.6,129.1 346.3,134.1 346.5,140.1 349.7,145.1 354.7,148.7 364.7,150.2 377.7,148.8 381.0,146.1 384.7,138.2 388.7,136.5 393.1,139.1 396.1,149.1 398.7,151.3 413.7,154.5 418.7,154.0 422.4,152.1 426.0,146.1 426.5,142.1 425.7,138.1 422.7,135.0 410.7,129.7 409.6,127.1 411.8,120.1 411.7,118.1 408.7,115.2 398.9,110.1 396.3,106.1 397.7,102.1 400.7,100.0 405.7,98.7 413.7,98.6 423.1,101.1 430.7,109.0 434.7,111.3 440.7,112.4 456.7,112.3 466.7,114.0 473.7,116.5 485.7,124.2 488.7,125.2 503.7,122.9 522.7,125.4 540.7,124.5 578.7,125.4 596.7,123.7 602.7,124.8 605.3,127.1 606.6,130.1 607.3,137.1 606.7,142.3 603.8,147.1 595.1,152.1 592.0,155.1 589.8,161.1 589.9,167.1 591.7,170.3 595.7,172.7 600.7,173.6 614.7,173.8 620.9,177.1 623.4,181.1 624.7,187.1 624.4,192.1 622.1,201.1 622.4,205.1 624.7,208.6 629.7,210.8 663.7,211.5 669.8,209.1 673.8,204.1 674.0,195.1 672.7,191.1 670.3,188.1 664.7,186.4 649.7,186.7 645.7,185.0 642.7,181.8 640.2,175.1 640.2,169.1 642.7,164.9 647.7,162.0 652.7,161.5 665.7,162.9 677.7,162.4 682.7,163.4 702.7,176.8 710.7,184.7 717.7,187.4 723.7,188.0 728.7,187.0 738.4,180.1 739.9,177.1 740.1,174.1 738.7,166.8 737.1,164.1 733.7,163.1 719.7,163.0 714.8,162.1 703.7,153.6 697.7,150.6 689.7,149.3 673.7,149.7 666.7,148.8 662.7,147.0 654.7,140.0 649.7,138.3 644.7,139.8 637.7,146.8 633.7,149.0 628.7,148.9 625.1,146.1 623.8,141.1 624.6,134.1 626.6,128.1 629.7,125.0 637.7,123.4 663.7,124.7 668.7,126.8 676.7,133.6 682.7,136.3 688.7,136.9 705.7,136.0 714.7,137.6 724.7,145.3 734.7,151.2 741.7,160.8 759.7,161.1 764.7,162.0 768.7,164.7 774.7,173.6 779.7,175.3 787.7,175.7 787.7,248.1ZM216.2,84.1 217.7,83.0 218.9,80.1 218.2,73.1 214.8,67.1 209.7,64.0 176.7,61.3 168.7,62.8 165.3,66.1 165.7,69.3 169.8,72.1 187.7,75.6 198.7,82.0 203.7,83.8 210.7,84.8 216.2,84.1ZM85.7,81.1 82.5,81.1 79.7,79.8 78.5,77.1 79.2,75.1 84.7,73.4 91.7,75.1 92.5,76.1 92.3,78.1 89.5,80.1 85.7,81.1ZM684.7,88.3 678.7,88.3 674.2,86.1 672.1,82.1 673.8,77.1 677.0,75.1 681.7,74.4 685.8,75.1 689.0,77.1 690.7,80.1 690.3,84.1 687.7,87.1 684.7,88.3ZM509.9,158.1 513.3,155.1 514.9,150.1 514.8,144.1 512.6,139.1 508.7,136.2 503.7,134.9 497.7,135.1 493.2,137.1 491.2,140.1 491.2,143.1 497.6,155.1 502.7,158.5 509.9,158.1ZM472.1,148.1 476.9,146.1 480.4,143.1 481.1,140.1 479.5,138.1 474.7,136.4 467.7,136.1 462.7,137.0 459.9,139.1 459.3,144.1 461.7,147.6 466.7,148.9 472.1,148.1ZM278.7,211.1 286.7,209.8 293.9,207.1 303.1,201.1 305.1,199.1 305.4,197.1 303.6,195.1 300.7,194.0 291.7,193.9 280.7,199.9 265.6,205.1 263.1,207.1 263.9,209.1 266.7,210.3 278.7,211.1Z"/>
<path fill="#f0eec0" fill-rule="evenodd" d="M574.7,248.1 198.3,248.1 198.0,243.1 196.3,238.1 194.3,235.1 191.7,233.9 188.7,235.3 181.4,242.1 179.4,245.1 179.3,248.1 153.6,248.1 153.1,243.1 151.0,239.1 147.7,235.9 143.7,234.9 138.7,237.0 134.0,241.1 132.2,244.1 131.8,248.1 104.7,248.1 104.3,243.1 102.3,239.1 97.7,236.8 86.8,235.1 84.4,227.1 80.7,223.6 72.7,222.3 53.7,223.9 53.7,196.1 64.7,195.5 70.7,192.7 73.8,187.1 76.2,173.1 77.7,171.4 79.7,171.0 82.7,172.5 94.7,183.3 110.7,188.1 115.7,190.5 125.7,201.1 129.7,201.3 142.7,197.9 149.2,198.1 156.2,200.1 174.7,208.4 181.7,210.1 200.7,211.7 214.7,215.1 242.7,214.1 272.7,215.3 290.7,214.5 306.7,211.5 324.7,213.0 329.7,211.9 332.8,210.1 333.7,208.1 332.5,205.1 319.7,194.5 314.7,192.1 304.7,190.6 296.7,190.2 290.7,190.9 275.7,198.7 259.7,202.1 252.2,201.1 244.7,192.5 238.7,190.4 231.7,191.9 223.7,198.9 219.7,199.7 215.7,198.5 213.4,194.1 213.8,189.1 215.8,185.1 221.7,178.1 223.3,173.1 221.7,169.6 215.7,166.8 213.3,164.1 213.3,158.1 216.7,151.6 223.7,145.8 230.7,144.0 234.7,145.6 241.4,153.1 246.7,153.3 263.1,145.1 265.6,142.1 265.2,139.1 262.7,137.1 258.7,136.0 239.7,136.8 233.7,135.1 221.7,121.9 218.3,116.1 214.6,106.1 210.7,103.2 191.7,98.2 175.7,97.7 155.7,95.2 149.9,93.1 137.7,85.8 134.7,83.4 132.7,80.1 131.7,75.1 132.2,70.1 133.7,67.0 136.7,64.6 144.7,63.3 150.7,65.7 156.4,74.1 159.7,76.6 182.5,80.1 194.7,86.4 211.6,91.1 214.4,93.1 218.7,98.5 222.7,100.2 228.7,99.5 233.1,96.1 233.8,91.1 231.3,81.1 233.4,77.1 237.7,75.7 248.7,74.7 254.7,74.8 259.3,76.1 268.5,85.1 278.4,90.1 281.7,93.8 282.8,101.1 279.7,116.1 280.6,120.1 282.7,122.9 286.7,124.7 290.7,124.6 294.7,122.4 300.7,115.1 303.7,113.1 308.7,112.3 312.7,113.6 315.7,118.1 313.8,129.1 315.0,133.1 318.7,136.0 328.7,140.5 350.2,163.1 354.7,165.5 357.7,165.3 359.4,164.1 362.2,156.1 368.7,153.7 377.1,154.1 387.2,159.1 394.7,160.6 413.7,159.3 420.7,157.9 424.7,155.5 427.4,152.1 432.0,137.1 434.7,135.0 439.7,134.3 448.3,135.1 452.7,136.8 454.5,140.1 456.3,149.1 458.7,151.3 469.7,151.0 483.7,146.5 487.7,147.4 496.7,161.3 507.7,165.8 510.4,168.1 511.0,171.1 509.1,179.1 509.5,182.1 511.7,184.5 516.7,186.3 529.7,186.5 534.7,185.3 538.7,183.2 541.7,179.1 543.0,167.1 545.6,164.1 548.7,162.4 560.7,160.6 569.7,161.0 573.7,162.1 576.4,165.1 575.7,169.9 573.4,172.1 561.2,179.1 559.2,182.1 558.2,187.1 561.1,202.1 559.0,217.1 561.7,221.0 571.7,225.6 575.1,229.1 576.1,235.1 574.7,248.1ZM145.7,134.2 140.7,134.0 138.3,131.1 138.7,125.1 141.0,122.1 142.7,121.9 144.7,123.1 147.9,128.1 148.2,132.1 145.7,134.2ZM476.7,132.1 468.7,133.0 461.7,132.1 459.2,130.1 458.9,125.1 460.7,122.6 463.7,121.4 471.7,122.1 476.7,125.1 478.9,128.1 479.1,130.1 476.7,132.1ZM787.7,236.1 763.7,234.5 744.7,236.9 713.7,236.8 706.6,235.1 704.7,233.1 704.0,230.1 704.9,227.1 706.7,225.2 712.7,222.8 723.7,221.9 741.7,223.7 745.7,222.8 748.7,220.7 752.7,213.1 754.9,205.1 752.0,202.1 742.7,198.8 738.9,196.1 738.8,192.1 744.0,187.1 750.7,185.2 765.7,186.6 787.7,185.2 787.7,236.1ZM536.1,212.1 539.7,210.5 542.0,208.1 542.8,205.1 541.6,202.1 538.7,199.9 534.7,198.9 530.7,199.4 527.7,200.9 524.9,205.1 525.7,209.1 529.7,211.9 536.1,212.1ZM601.7,212.1 595.7,211.7 591.5,209.1 590.4,204.1 593.3,200.1 597.7,198.5 602.7,198.2 606.7,199.1 609.2,201.1 610.4,204.1 609.6,208.1 606.7,210.8 601.7,212.1ZM85.7,248.1 67.1,248.1 67.3,244.1 68.7,241.1 72.7,238.2 77.7,236.9 83.7,236.6 84.9,237.1 85.7,239.0 85.7,248.1Z"/>
<path fill="#f0966e" fill-rule="evenodd" d="M167.7,90.1 161.7,90.3 160.1,89.1 160.2,88.1 164.7,86.4 170.2,87.1 169.7,89.1 167.7,90.1ZM461.7,248.1 362.7,248.1 364.1,240.1 366.7,237.4 369.7,236.1 376.7,235.3 398.7,235.7 419.7,237.0 425.7,234.5 427.1,232.1 427.1,229.1 424.1,225.1 415.7,220.6 412.9,218.1 412.3,215.1 414.2,208.1 413.8,205.1 409.8,201.1 403.7,198.5 400.7,198.4 397.7,200.0 393.6,207.1 390.7,210.0 383.7,212.0 370.7,210.4 358.7,211.3 352.7,210.5 342.6,203.1 331.7,197.2 322.7,189.5 316.7,187.8 291.7,188.2 285.7,190.1 277.4,195.1 271.7,197.5 262.7,198.9 256.7,198.3 245.2,189.1 228.7,184.9 227.4,181.1 228.1,169.1 225.8,166.1 218.0,161.1 217.0,158.1 217.6,155.1 221.7,150.2 226.7,148.3 231.7,149.6 237.7,156.2 242.7,158.1 248.7,157.1 262.7,151.6 274.7,150.4 279.7,153.0 284.5,163.1 288.7,165.0 309.7,157.1 319.7,151.7 322.7,151.1 327.7,152.6 335.7,156.9 346.7,166.4 351.7,168.9 358.7,169.8 364.7,168.5 367.2,166.1 369.5,160.1 373.7,158.9 391.2,166.1 399.1,173.1 402.7,174.2 406.7,172.9 415.7,166.2 425.2,162.1 428.7,159.6 431.4,155.1 434.1,143.1 435.7,140.7 438.7,139.0 445.7,139.1 450.0,142.1 450.8,145.1 450.3,148.1 445.9,157.1 447.2,160.1 450.7,161.9 457.7,162.3 462.0,157.1 465.1,155.1 479.7,151.0 484.7,151.0 487.3,153.1 488.6,156.1 488.5,159.1 486.7,161.8 480.7,163.6 463.7,164.3 461.7,165.4 461.4,168.1 464.7,173.1 469.7,175.3 488.7,174.4 493.4,175.1 494.7,176.2 495.3,179.1 492.7,184.7 487.7,187.3 479.7,188.3 448.7,186.5 445.1,188.1 443.1,192.1 445.4,228.1 448.7,233.3 459.8,240.1 461.7,244.1 461.7,248.1ZM108.7,210.2 94.7,210.6 88.2,208.1 86.4,205.1 85.6,201.1 85.5,192.1 86.4,189.1 88.7,188.4 104.7,189.4 110.7,191.0 114.0,193.1 116.8,198.1 116.6,205.1 114.7,208.4 108.7,210.2ZM261.7,248.1 205.5,248.1 204.6,242.1 198.7,229.6 196.7,227.3 193.7,226.4 187.7,228.5 177.7,237.7 170.7,240.1 165.7,239.8 161.9,238.1 151.7,226.3 145.7,223.7 140.7,225.1 128.7,234.8 124.7,236.3 121.7,236.3 118.7,234.1 117.6,231.1 118.3,218.1 119.6,214.1 121.5,212.1 138.7,203.2 144.7,202.0 151.7,204.0 160.7,210.8 166.7,213.4 173.7,214.5 192.7,214.8 206.7,219.9 231.7,219.3 278.7,220.3 303.7,221.9 320.7,221.4 327.7,223.1 330.3,226.1 330.6,230.1 329.2,233.1 326.7,235.2 322.7,236.6 293.7,236.7 279.7,235.3 273.7,236.1 268.7,238.4 263.9,242.1 261.7,248.1ZM767.7,225.3 760.7,225.1 758.7,224.0 757.3,221.1 757.7,217.1 759.2,214.1 761.7,211.6 764.7,210.3 767.7,210.3 770.7,211.9 773.3,217.1 772.7,222.1 770.7,224.1 767.7,225.3Z"/>
<path fill="#f06e5a" fill-rule="evenodd" d="M441.7,146.5 440.5,146.1 441.7,145.7 441.7,146.5ZM376.7,199.3 367.7,199.3 355.7,196.3 345.7,196.7 339.7,195.8 333.7,192.7 326.7,185.0 321.7,183.3 289.7,186.1 283.7,188.0 271.7,194.9 265.7,196.2 259.7,195.8 256.1,194.1 248.7,187.6 233.6,182.1 231.8,178.1 232.2,164.1 230.7,162.6 223.1,160.1 221.3,158.1 221.1,156.1 223.7,152.7 227.7,152.2 231.3,155.1 233.7,160.5 238.7,161.8 247.7,160.8 260.7,157.2 266.7,157.3 271.7,159.8 278.7,168.1 285.7,170.5 291.7,169.6 302.7,163.5 310.7,160.9 321.7,158.6 328.7,159.4 335.0,162.1 343.7,168.9 347.7,170.8 369.7,173.8 374.7,175.9 380.2,193.1 379.8,197.1 376.7,199.3ZM478.7,157.5 475.1,157.1 478.7,156.0 479.4,157.1 478.7,157.5ZM424.7,199.1 419.7,198.1 412.7,194.2 409.5,191.1 408.0,187.1 408.9,183.1 411.9,179.1 417.7,174.2 421.7,172.7 424.8,173.1 427.7,175.7 429.7,180.4 431.1,187.1 431.1,192.1 429.8,196.1 427.7,198.3 424.7,199.1ZM106.7,202.3 102.7,202.8 98.7,201.5 97.1,199.1 97.5,196.1 99.7,194.2 102.7,193.4 108.7,194.7 110.4,197.1 110.3,199.1 106.7,202.3ZM173.7,234.2 169.0,234.1 165.3,232.1 163.0,228.1 163.6,224.1 166.0,222.1 169.7,221.0 176.7,220.5 181.7,221.4 182.6,224.1 180.3,229.1 177.7,232.2 173.7,234.2ZM247.7,248.1 215.9,248.1 215.1,244.1 206.6,235.1 205.1,231.1 205.3,228.1 206.7,226.1 210.7,224.5 227.7,222.7 251.7,223.9 258.0,225.1 262.6,227.1 263.8,229.1 262.8,232.1 249.3,243.1 247.9,245.1 247.7,248.1Z"/>
<path fill="#eb4141" fill-rule="evenodd" d="M266.7,193.1 260.7,192.4 252.7,185.2 240.7,182.1 237.1,180.1 235.3,175.1 237.7,167.8 243.7,164.9 259.7,163.8 264.7,166.0 272.4,173.1 277.7,174.7 284.7,175.1 292.7,173.4 307.7,165.3 315.7,163.9 322.7,163.9 330.3,166.1 340.7,172.7 357.7,175.2 363.7,176.9 366.8,179.1 368.6,183.1 367.8,187.1 364.7,189.3 342.7,190.7 337.7,188.1 331.7,177.8 325.7,176.5 307.7,181.9 284.7,183.9 279.7,186.0 272.7,191.1 266.7,193.1ZM240.7,238.1 231.7,238.8 220.7,237.2 214.7,234.8 212.3,231.1 213.5,229.1 216.7,227.8 229.7,226.3 243.5,227.1 247.7,228.2 250.7,230.1 250.8,232.1 249.2,234.1 240.7,238.1Z"/>
<path fill="#eb0f0f" fill-rule="evenodd" d="M247.7,179.2 243.7,179.0 240.5,177.1 240.0,173.1 242.7,169.8 248.7,168.9 252.7,171.1 253.4,173.1 252.7,176.1 250.9,178.1 247.7,179.2ZM307.7,177.2 302.7,177.8 300.5,177.1 300.4,176.1 306.7,170.8 310.7,169.9 313.7,170.6 314.2,172.1 312.9,174.1 307.7,177.2ZM355.7,186.2 349.7,186.4 345.7,185.2 343.6,183.1 343.6,180.1 345.7,178.4 349.7,177.5 354.7,177.7 359.1,179.1 361.2,181.1 361.2,183.1 359.2,185.1 355.7,186.2Z"/>
<polyline fill="none" stroke="#f0966e" stroke-width="8.0" stroke-linejoin="round" stroke-linecap="round" points="215.4,100.8 221.4,113.9 226.2,125.9 227.5,131.0"/>
<polyline fill="none" stroke="#f0966e" stroke-width="8.5" stroke-linejoin="round" stroke-linecap="round" points="224.5,122.0 228.6,121.1 237.0,118.7 247.7,125.9 257.3,134.3 269.3,137.8 278.8,147.4 283.6,154.6 287.2,158.0"/>
<polygon fill="#fff" points="348.7,50.6 348.7,55.0 349.0,66.0 353.0,66.0 353.5,86.0 356.0,92.0 362.0,104.0 366.0,112.0 367.0,126.5 408.0,126.5 408.0,119.0 418.0,112.0 426.0,102.0 433.0,94.0 436.0,88.0 446.0,81.0 446.0,50.6"/>
<polygon fill="#fff" points="472.4,50.6 472.4,81.7 491.0,81.7 491.0,74.0 497.0,60.0 497.0,50.6"/>
<polygon fill="#fff" points="787.5,50.6 772.0,50.6 757.2,56.0 757.2,92.8 761.6,92.8 765.4,109.0 766.0,132.0 782.0,132.0 787.5,129.0"/>
<polygon fill="#fff" points="53.2,50.6 136.0,50.6 133.0,62.0 117.0,68.0 110.0,76.0 102.0,82.0 101.0,92.0 97.0,100.0 90.0,110.0 84.0,118.0 79.0,126.0 70.0,132.0 64.0,140.0 53.2,146.0"/>
<polygon fill="#fff" points="133.6,50.6 131.6,54.9 130.1,60.2 127.0,63.3 121.7,64.0 117.1,65.5 114.1,67.8 108.7,69.4 104.1,73.2 100.3,78.5 99.6,84.6 99.6,90.7 95.8,96.8 91.2,103.7 86.6,109.0 82.8,115.1 78.2,121.2 71.4,123.5 64.5,122.7 59.9,119.7 59.2,122.7 63.7,125.0 64.5,130.4 66.0,133.4 63.7,138.0 59.2,141.8 54.6,143.3 53.2,143.8 53.2,50.6"/>
<polyline fill="none" stroke="#000" stroke-width="3.2" stroke-linejoin="round" stroke-linecap="round" points="133.6,50.6 131.6,54.9 130.1,60.2 127.0,63.3 121.7,64.0 117.1,65.5 114.1,67.8 108.7,69.4 104.1,73.2 100.3,78.5 99.6,84.6 99.6,90.7 95.8,96.8 91.2,103.7 86.6,109.0 82.8,115.1 78.2,121.2 71.4,123.5 64.5,122.7 59.9,119.7 59.2,122.7 63.7,125.0 64.5,130.4 66.0,133.4 63.7,138.0 59.2,141.8 54.6,143.3 53.2,143.8"/>
<polygon fill="#fff" points="352.0,50.6 357.5,61.8 358.2,75.5 361.0,87.9 366.5,94.8 371.3,107.1 370.6,114.0 374.0,119.5 378.8,123.0 387.8,120.2 398.8,119.5 407.0,117.5 415.3,109.9 423.5,100.3 429.0,93.4 431.8,86.5 431.8,79.6 434.5,76.9 441.4,73.4 442.8,65.9 441.4,56.3 440.0,50.6"/>
<polyline fill="none" stroke="#000" stroke-width="3.2" stroke-linejoin="round" stroke-linecap="round" points="352.0,50.6 357.5,61.8 358.2,75.5 361.0,87.9 366.5,94.8 371.3,107.1 370.6,114.0 374.0,119.5 378.8,123.0 387.8,120.2 398.8,119.5 407.0,117.5 415.3,109.9 423.5,100.3 429.0,93.4 431.8,86.5 431.8,79.6 434.5,76.9 441.4,73.4 442.8,65.9 441.4,56.3 440.0,50.6"/>
<polygon fill="#fff" points="476.5,50.6 473.7,61.8 475.8,72.8 481.3,78.3 488.2,76.2 490.2,72.8 493.7,60.4 496.4,50.6"/>
<polyline fill="none" stroke="#000" stroke-width="3.2" stroke-linejoin="round" stroke-linecap="round" points="476.5,50.6 473.7,61.8 475.8,72.8 481.3,78.3 488.2,76.2 490.2,72.8 493.7,60.4 496.4,50.6"/>
<polygon fill="#fff" points="787.5,51.3 779.9,53.2 771.7,55.1 768.6,58.2 763.5,60.1 761.6,62.6 761.0,67.6 760.4,73.9 761.6,80.2 762.9,85.2 765.4,91.5 767.9,97.8 769.8,105.3 770.4,112.9 767.9,119.2 770.4,122.9 774.8,124.8 781.1,124.2 785.5,121.7 787.5,121.0"/>
<polyline fill="none" stroke="#000" stroke-width="3.2" stroke-linejoin="round" stroke-linecap="round" points="787.5,51.3 779.9,53.2 771.7,55.1 768.6,58.2 763.5,60.1 761.6,62.6 761.0,67.6 760.4,73.9 761.6,80.2 762.9,85.2 765.4,91.5 767.9,97.8 769.8,105.3 770.4,112.9 767.9,119.2 770.4,122.9 774.8,124.8 781.1,124.2 785.5,121.7 787.5,121.0"/>
<path d="M55,205.5 C57,203.5 61,203.3 63.2,205.8 C64.5,208 62.5,211.2 59,211.3 C56.5,211.3 54.5,210 53.5,209 Z" fill="#000"/>
<path d="M142.8,219 C145.5,218.8 149,220 151.6,222.8" fill="none" stroke="#000" stroke-width="5.2" stroke-linecap="round"/>
<path d="M578.3,192.3 C579.5,190.3 582,190.8 582.8,193.2 C584.2,191.8 587.3,192.3 587.2,194.6 C586.8,197.2 583.2,198.8 580.2,198.4 C577.8,198 577.3,194.2 578.3,192.3 Z" fill="#000"/>
<path d="M524.3,53.7 a2.8,2.8 0 1,0 0.01,0 Z" fill="#000"/>
<path d="M532.6,50.5 a2.6,2.6 0 1,0 0.01,0 Z" fill="#000"/>
</g>
<rect x="460.1" y="143" width="79.6" height="50" fill="none" stroke="#000" stroke-width="5.8"/>
<rect x="53.2" y="50.6" width="734.3" height="197.70000000000002" fill="none" stroke="#000" stroke-width="3.2"/>
<line x1="45.2" y1="50.6" x2="53.2" y2="50.6" stroke="#000" stroke-width="3" stroke-linecap="round"/>
<text x="41" y="60.0" text-anchor="end" class="ax" textLength="37.7" lengthAdjust="spacingAndGlyphs">20S</text>
<line x1="45.2" y1="100.025" x2="53.2" y2="100.025" stroke="#000" stroke-width="3" stroke-linecap="round"/>
<text x="41" y="109.4" text-anchor="end" class="ax" textLength="37.7" lengthAdjust="spacingAndGlyphs">30S</text>
<line x1="45.2" y1="149.45000000000002" x2="53.2" y2="149.45000000000002" stroke="#000" stroke-width="3" stroke-linecap="round"/>
<text x="41" y="158.9" text-anchor="end" class="ax" textLength="37.7" lengthAdjust="spacingAndGlyphs">40S</text>
<line x1="45.2" y1="198.87500000000003" x2="53.2" y2="198.87500000000003" stroke="#000" stroke-width="3" stroke-linecap="round"/>
<text x="41" y="208.3" text-anchor="end" class="ax" textLength="37.7" lengthAdjust="spacingAndGlyphs">50S</text>
<line x1="45.2" y1="248.3" x2="53.2" y2="248.3" stroke="#000" stroke-width="3" stroke-linecap="round"/>
<text x="41" y="257.7" text-anchor="end" class="ax" textLength="37.7" lengthAdjust="spacingAndGlyphs">60S</text>
<line x1="53.2" y1="248.3" x2="53.2" y2="255.6" stroke="#000" stroke-width="3" stroke-linecap="round"/>
<text x="53.2" y="276.2" text-anchor="middle" class="ax" textLength="40.6" lengthAdjust="spacingAndGlyphs">60W</text>
<line x1="175.6" y1="248.3" x2="175.6" y2="255.6" stroke="#000" stroke-width="3" stroke-linecap="round"/>
<text x="175.6" y="276.2" text-anchor="middle" class="ax" textLength="40.4" lengthAdjust="spacingAndGlyphs">30W</text>
<line x1="298.0" y1="248.3" x2="298.0" y2="255.6" stroke="#000" stroke-width="3" stroke-linecap="round"/>
<text x="298.0" y="276.2" text-anchor="middle" class="ax" textLength="12.5" lengthAdjust="spacingAndGlyphs">0</text>
<line x1="420.3" y1="248.3" x2="420.3" y2="255.6" stroke="#000" stroke-width="3" stroke-linecap="round"/>
<text x="420.3" y="276.2" text-anchor="middle" class="ax" textLength="37.4" lengthAdjust="spacingAndGlyphs">30E</text>
<line x1="542.7" y1="248.3" x2="542.7" y2="255.6" stroke="#000" stroke-width="3" stroke-linecap="round"/>
<text x="542.7" y="276.2" text-anchor="middle" class="ax" textLength="37.0" lengthAdjust="spacingAndGlyphs">60E</text>
<line x1="665.1" y1="248.3" x2="665.1" y2="255.6" stroke="#000" stroke-width="3" stroke-linecap="round"/>
<text x="665.1" y="276.2" text-anchor="middle" class="ax" textLength="37.0" lengthAdjust="spacingAndGlyphs">90E</text>
<line x1="787.5" y1="248.3" x2="787.5" y2="255.6" stroke="#000" stroke-width="3" stroke-linecap="round"/>
<text x="787.5" y="276.2" text-anchor="middle" class="ax" textLength="49.4" lengthAdjust="spacingAndGlyphs">120E</text>
<text x="56.0" y="34.2" class="tl" textLength="41.5" lengthAdjust="spacingAndGlyphs">(b)</text>
<text transform="translate(420.4,34.2) scale(0.82,1)" text-anchor="middle" class="tl" textLength="575.9" lengthAdjust="spacing" word-spacing="3">SST F2 12mem (1994−1998)</text>
<path d="M86,297.25 L142.3,286.7 L142.3,307.8 Z" fill="#0a0af0" stroke="#000" stroke-width="1.5" stroke-linejoin="round"/>
<rect x="142.3" y="286.7" width="55.5" height="21.100000000000023" fill="#3014e6" stroke="#000" stroke-width="1.5"/>
<rect x="197.8" y="286.7" width="55.5" height="21.100000000000023" fill="#4038e8" stroke="#000" stroke-width="1.5"/>
<rect x="253.3" y="286.7" width="55.5" height="21.100000000000023" fill="#5464eb" stroke="#000" stroke-width="1.5"/>
<rect x="308.8" y="286.7" width="55.5" height="21.100000000000023" fill="#6490eb" stroke="#000" stroke-width="1.5"/>
<rect x="364.3" y="286.7" width="55.5" height="21.100000000000023" fill="#bceeee" stroke="#000" stroke-width="1.5"/>
<rect x="419.8" y="286.7" width="55.5" height="21.100000000000023" fill="#f0eec0" stroke="#000" stroke-width="1.5"/>
<rect x="475.3" y="286.7" width="55.5" height="21.100000000000023" fill="#f0966e" stroke="#000" stroke-width="1.5"/>
<rect x="530.8" y="286.7" width="55.5" height="21.100000000000023" fill="#f06e5a" stroke="#000" stroke-width="1.5"/>
<rect x="586.3" y="286.7" width="55.5" height="21.100000000000023" fill="#eb4141" stroke="#000" stroke-width="1.5"/>
<rect x="641.8" y="286.7" width="55.5" height="21.100000000000023" fill="#eb0f0f" stroke="#000" stroke-width="1.5"/>
<path d="M754,297.25 L697.3,286.7 L697.3,307.8 Z" fill="#ec0c0c" stroke="#000" stroke-width="1.5" stroke-linejoin="round"/>
<text x="142.9" y="326" text-anchor="middle" class="cb" textLength="44.7" lengthAdjust="spacingAndGlyphs">−0.5</text>
<text x="198.4" y="326" text-anchor="middle" class="cb" textLength="43.5" lengthAdjust="spacingAndGlyphs">−0.4</text>
<text x="253.9" y="326" text-anchor="middle" class="cb" textLength="43.5" lengthAdjust="spacingAndGlyphs">−0.3</text>
<text x="309.4" y="326" text-anchor="middle" class="cb" textLength="43.5" lengthAdjust="spacingAndGlyphs">−0.2</text>
<text x="364.9" y="326" text-anchor="middle" class="cb" textLength="42.1" lengthAdjust="spacingAndGlyphs">−0.1</text>
<text x="420.4" y="326" text-anchor="middle" class="cb" textLength="13.8" lengthAdjust="spacingAndGlyphs">0</text>
<text x="475.9" y="326" text-anchor="middle" class="cb" textLength="27.6" lengthAdjust="spacingAndGlyphs">0.1</text>
<text x="531.4" y="326" text-anchor="middle" class="cb" textLength="30.6" lengthAdjust="spacingAndGlyphs">0.2</text>
<text x="586.9" y="326" text-anchor="middle" class="cb" textLength="29.8" lengthAdjust="spacingAndGlyphs">0.3</text>
<text x="642.4" y="326" text-anchor="middle" class="cb" textLength="30.0" lengthAdjust="spacingAndGlyphs">0.4</text>
<text x="697.9" y="326" text-anchor="middle" class="cb" textLength="29.8" lengthAdjust="spacingAndGlyphs">0.5</text>
</g>
<g transform="translate(1.6,339.2)">
<clipPath id="clipc"><rect x="53.2" y="50.6" width="734.3" height="197.70000000000002"/></clipPath>
<g clip-path="url(#clipc)">
<rect x="53.2" y="50.6" width="734.3" height="197.70000000000002" fill="#0a0af0"/>
<rect x="53.2" y="50.6" width="734.3" height="197.70000000000002" fill="#3014e6"/>
<path fill="#4038e8" fill-rule="evenodd" d="M787.7,248.1 53.7,248.1 53.6,51.1 787.7,51.0 787.7,248.1ZM300.7,177.1 307.7,175.3 315.3,170.1 317.7,166.1 316.1,162.1 312.7,160.2 309.7,159.8 294.7,163.2 285.7,163.6 278.7,162.4 268.7,159.1 263.7,158.7 258.7,159.9 254.6,162.1 250.1,166.1 248.5,169.1 248.8,171.1 250.4,173.1 257.9,176.1 278.7,175.9 300.7,177.1ZM226.8,183.1 231.7,181.5 234.0,179.1 234.1,176.1 231.7,173.7 225.7,171.5 217.7,170.3 212.7,170.9 210.2,173.1 210.0,177.1 213.5,181.1 219.7,183.0 226.8,183.1Z"/>
<path fill="#5464eb" fill-rule="evenodd" d="M787.7,248.1 53.7,248.1 53.6,51.1 787.7,51.1 787.7,248.1ZM569.7,102.1 574.0,99.1 577.1,95.1 577.2,92.1 575.7,90.1 570.7,87.3 565.7,86.2 560.7,86.5 556.7,88.2 555.4,90.1 555.3,93.1 558.7,98.5 563.7,102.2 566.7,102.7 569.7,102.1ZM239.9,187.1 252.7,185.3 307.7,184.7 312.7,182.4 323.7,173.1 326.3,169.1 326.3,165.1 324.5,161.1 320.9,157.1 307.7,150.0 304.7,150.3 296.0,157.1 287.7,158.3 279.7,155.4 272.0,147.1 266.7,145.9 260.7,147.0 255.6,149.1 245.8,159.1 237.7,164.0 229.7,164.9 211.7,162.0 206.7,163.7 203.4,167.1 202.3,171.1 203.3,177.1 205.4,181.1 209.1,184.1 220.7,186.8 239.9,187.1Z"/>
<path fill="#6490eb" fill-rule="evenodd" d="M787.7,248.1 53.7,248.1 53.7,51.1 787.7,51.1 787.7,248.1ZM573.0,108.1 587.1,98.1 589.6,95.1 587.9,90.1 581.7,84.4 567.7,75.7 562.7,74.2 551.7,74.5 534.7,72.8 528.9,74.1 526.1,76.1 525.4,79.1 527.3,82.1 543.3,89.1 552.0,101.1 557.7,106.9 564.7,109.0 573.0,108.1ZM269.8,222.1 276.7,220.0 287.7,212.6 291.7,212.1 301.7,213.0 306.7,212.0 330.9,194.1 332.5,192.1 333.2,189.1 331.1,181.1 334.9,171.1 333.2,166.1 327.7,158.1 313.7,147.1 305.7,136.9 300.7,133.6 298.0,136.1 294.7,148.2 292.7,150.6 289.7,151.8 285.2,150.1 278.2,142.1 271.7,139.9 210.7,139.5 203.7,140.3 199.3,142.1 197.4,146.1 200.1,156.1 196.4,164.1 195.6,170.1 197.3,178.1 201.1,185.1 207.7,188.9 225.7,190.8 233.5,193.1 247.2,205.1 252.6,217.1 255.2,220.1 260.7,222.2 269.8,222.1ZM160.4,197.1 165.7,195.3 171.1,190.1 181.1,185.1 183.0,182.1 181.9,179.1 175.7,176.7 168.7,177.3 161.7,183.6 152.7,188.2 148.7,192.1 148.4,195.1 150.7,196.9 160.4,197.1Z"/>
<path fill="#bceeee" fill-rule="evenodd" d="M787.7,248.1 53.7,248.1 53.7,51.1 787.7,51.1 787.7,248.1ZM551.7,126.1 555.2,124.1 560.7,116.3 566.7,114.6 573.0,116.1 580.7,124.0 583.7,124.8 587.7,124.1 590.7,122.1 594.7,115.0 597.7,112.7 613.7,112.5 620.7,110.0 627.2,104.1 628.1,99.1 624.4,94.1 615.7,87.7 611.7,87.0 601.7,88.2 596.7,86.6 580.7,74.6 572.7,66.5 567.7,63.9 560.7,63.1 543.7,64.5 528.7,64.6 508.7,61.4 504.7,61.8 500.7,64.1 497.7,68.1 493.0,79.1 492.5,82.1 493.7,85.1 497.7,88.2 503.7,90.0 522.7,88.6 532.7,90.0 537.7,92.1 541.3,96.1 543.6,103.1 543.6,106.1 540.1,114.1 540.9,121.1 544.7,125.4 551.7,126.1ZM268.9,227.1 279.7,226.1 291.7,223.2 304.7,223.6 309.7,222.7 320.7,211.2 331.7,202.9 342.7,196.4 345.2,193.1 344.3,181.1 349.0,173.1 349.0,170.1 337.7,163.3 328.7,154.0 316.7,144.9 312.2,138.1 306.7,124.1 302.7,119.9 291.7,115.0 287.7,114.8 283.4,116.1 281.0,118.1 280.2,120.1 282.7,131.7 281.7,133.3 278.7,134.4 194.7,134.8 189.7,137.3 183.9,146.1 177.7,148.0 170.8,147.1 167.0,144.1 166.2,140.1 167.5,129.1 166.4,126.1 163.7,124.3 144.7,123.7 130.7,121.7 124.7,123.6 120.2,128.1 117.4,135.1 117.9,139.1 119.9,143.1 126.7,150.4 145.7,164.4 152.7,174.1 153.5,178.1 131.7,196.7 125.7,198.3 114.7,196.1 108.7,196.7 103.7,199.1 100.7,201.7 99.8,204.1 101.3,206.1 114.7,210.5 117.7,212.7 123.7,219.8 129.7,221.4 136.7,218.6 149.7,205.2 157.7,202.5 164.7,203.1 176.7,209.0 192.7,208.6 207.7,212.4 211.7,212.3 213.8,211.1 215.4,208.1 214.9,197.1 217.7,195.5 222.7,195.3 229.1,198.1 241.7,211.0 247.6,222.1 249.7,224.4 256.7,226.8 268.9,227.1ZM98.7,146.1 101.9,144.1 103.6,141.1 103.1,138.1 101.0,136.1 96.7,134.6 92.7,134.6 88.7,136.1 86.8,138.1 86.5,142.1 89.2,145.1 93.7,146.7 98.7,146.1ZM703.8,171.1 706.2,169.1 707.2,165.1 706.0,161.1 703.7,159.3 699.7,159.1 695.7,160.4 691.5,163.1 688.9,166.1 689.4,169.1 693.2,171.1 698.7,172.0 703.8,171.1ZM181.7,172.2 174.7,171.6 169.7,170.1 167.8,168.1 168.0,165.1 170.7,162.3 174.7,160.9 180.7,160.6 184.7,161.7 187.3,165.1 187.3,169.1 185.7,171.2 181.7,172.2ZM375.7,189.1 383.8,186.1 384.6,185.1 384.3,183.1 380.2,180.1 372.7,177.6 366.7,177.5 363.6,179.1 362.9,183.1 365.2,187.1 369.7,189.1 375.7,189.1ZM406.6,224.1 409.8,222.1 414.7,214.1 418.7,211.1 424.7,210.3 437.7,211.8 452.7,209.2 460.8,205.1 462.4,202.1 462.1,200.1 460.1,198.1 456.7,197.2 436.7,197.5 432.7,196.0 422.7,189.1 409.7,184.2 402.7,182.9 396.2,184.1 394.0,186.1 396.7,196.1 392.9,209.1 393.1,218.1 394.7,221.9 397.5,224.1 401.7,224.9 406.6,224.1Z"/>
<path fill="#f0eec0" fill-rule="evenodd" d="M787.7,248.1 641.4,248.1 640.8,243.1 637.6,239.1 631.7,235.7 624.7,234.7 616.7,235.8 611.6,238.1 608.4,242.1 607.7,248.1 396.6,248.1 397.8,240.1 399.9,237.1 402.7,235.3 409.7,234.3 428.7,237.0 439.7,235.4 442.7,233.7 444.6,231.1 443.2,221.1 445.6,217.1 452.7,214.3 468.7,211.2 484.7,212.0 490.6,211.1 494.9,207.1 495.9,203.1 495.6,200.1 492.7,198.2 480.7,195.6 477.4,193.1 471.7,186.3 466.7,184.0 459.7,183.5 444.7,185.4 438.7,185.3 421.7,182.8 405.7,178.7 387.7,178.3 366.7,172.1 355.7,164.8 340.7,159.9 330.9,151.1 320.7,144.1 317.4,140.1 315.2,135.1 313.2,120.1 309.9,117.1 289.7,109.1 284.7,109.0 272.7,110.8 262.7,104.9 255.7,102.4 239.7,98.9 223.7,98.9 218.7,96.3 209.7,88.4 202.7,86.5 190.7,88.1 175.7,87.7 170.3,89.1 167.6,93.1 168.1,103.1 167.4,107.1 164.7,110.6 160.7,113.0 154.7,114.1 140.7,113.8 125.7,115.9 119.4,118.1 107.7,125.5 89.7,126.9 85.7,128.3 82.7,130.8 80.3,135.1 79.6,140.1 81.1,144.1 84.2,147.1 89.7,150.3 95.7,151.9 100.7,151.5 108.7,149.3 112.7,149.7 135.5,167.1 138.0,170.1 138.8,173.1 136.6,179.1 129.4,186.1 124.7,187.7 109.7,188.5 93.1,198.1 89.0,203.1 88.2,207.1 88.8,210.1 91.7,211.6 104.7,212.5 110.5,214.1 114.2,217.1 118.7,224.4 124.7,226.6 134.7,226.4 142.2,224.1 146.0,221.1 153.7,211.1 156.7,209.1 159.7,208.6 173.7,213.8 189.7,213.7 196.0,215.1 201.3,218.1 222.7,234.8 228.7,237.4 233.7,237.4 252.7,234.2 264.7,233.4 288.7,235.1 303.7,235.0 319.7,236.5 327.0,234.1 332.7,226.5 335.7,224.5 340.7,223.8 352.7,224.0 358.7,222.0 362.4,217.1 362.6,205.1 364.3,200.1 368.7,197.4 376.7,197.0 379.8,198.1 381.4,200.1 382.5,212.1 382.1,220.1 378.8,235.1 378.3,248.1 70.2,248.1 70.7,243.1 72.2,240.1 85.5,230.1 87.3,227.1 87.6,223.1 86.4,216.1 84.7,213.4 72.7,209.6 63.7,199.7 59.7,198.5 53.7,198.2 53.7,51.1 494.4,51.1 493.7,57.1 489.5,70.1 485.7,74.8 477.8,80.1 477.3,83.1 483.6,89.1 495.7,95.1 507.7,97.9 524.7,99.1 526.7,100.1 526.3,107.1 527.4,120.1 524.9,132.1 526.2,139.1 528.7,143.4 533.7,146.5 538.7,146.8 542.3,145.1 546.3,138.1 548.7,136.1 553.7,135.4 557.8,137.1 560.1,140.1 560.7,144.1 556.1,152.1 556.0,154.1 561.5,162.1 565.7,172.0 567.7,174.3 570.7,175.6 575.7,175.0 579.1,171.1 579.6,166.1 576.6,156.1 577.7,153.1 579.7,151.4 584.7,149.4 591.7,149.1 598.7,150.4 605.7,153.7 610.1,158.1 612.0,164.1 611.6,170.1 608.6,179.1 608.9,182.1 620.6,189.1 628.7,196.3 639.0,203.1 640.7,206.1 639.2,215.1 640.3,219.1 643.7,221.8 653.7,225.9 656.9,232.1 659.7,235.2 666.7,237.2 673.0,235.1 674.4,233.1 674.6,230.1 671.1,226.1 660.7,222.6 658.7,221.1 658.1,218.1 659.2,215.1 661.7,212.6 665.7,211.1 679.7,212.1 684.7,211.2 688.2,207.1 687.9,202.1 685.4,199.1 681.7,197.6 666.7,198.7 661.7,197.7 658.0,195.1 653.7,188.3 643.7,184.5 639.3,181.1 637.5,175.1 639.5,163.1 639.2,157.1 636.3,152.1 626.7,146.2 624.2,143.1 623.6,139.1 624.4,131.1 624.1,121.1 625.6,118.1 629.7,114.1 658.7,91.5 663.7,89.1 668.7,89.7 672.7,92.8 674.5,97.1 674.4,102.1 671.7,108.3 660.4,113.1 656.0,117.1 655.4,122.1 658.7,125.7 662.7,126.3 666.9,125.1 679.7,114.3 697.7,114.5 702.7,113.7 706.4,111.1 707.3,107.1 704.8,103.1 695.7,98.1 691.7,94.5 690.0,90.1 689.1,79.1 687.5,77.1 684.7,75.9 667.7,74.4 646.7,75.9 643.7,77.4 640.6,84.1 636.7,88.1 632.7,89.1 627.7,87.2 623.9,83.1 623.8,79.1 627.7,76.5 638.8,74.1 640.1,73.1 640.8,70.1 639.9,67.1 637.7,64.5 625.3,58.1 623.6,55.1 623.2,51.1 787.7,51.1 787.7,172.2 776.7,171.0 767.7,163.1 762.7,160.7 759.7,160.5 756.7,161.5 755.4,163.1 754.7,166.1 755.3,169.1 757.5,172.1 767.7,177.1 774.7,183.1 779.7,184.6 787.7,184.9 787.7,213.3 766.7,211.4 761.7,212.0 751.7,219.8 741.7,225.7 739.6,228.1 738.8,231.1 740.4,234.1 744.7,236.4 750.7,237.3 757.7,237.0 764.7,234.9 776.7,226.0 781.7,224.7 787.7,224.6 787.7,248.1ZM456.0,73.1 460.2,72.1 462.7,70.1 462.9,66.1 460.7,63.2 456.7,61.6 451.7,61.4 447.7,62.4 444.7,64.6 443.5,68.1 444.7,71.2 448.7,72.9 456.0,73.1ZM196.7,126.2 189.7,126.4 184.7,124.4 182.5,120.1 183.9,115.1 186.7,112.8 191.7,111.4 195.7,111.8 198.7,113.4 200.9,117.1 201.5,122.1 199.7,125.1 196.7,126.2ZM453.6,146.1 457.8,143.1 459.0,138.1 456.7,134.7 451.7,133.7 447.4,136.1 445.9,139.1 445.6,142.1 446.7,144.8 448.4,146.1 453.6,146.1ZM730.3,212.1 736.3,208.1 737.7,205.1 737.4,203.1 734.8,200.1 723.9,193.1 721.9,189.1 721.9,184.1 722.9,181.1 725.3,178.1 735.8,172.1 737.4,167.1 734.7,162.8 724.7,159.2 722.3,157.1 722.0,153.1 725.2,143.1 724.7,139.4 723.1,137.1 718.7,135.9 711.7,138.3 690.9,156.1 681.7,161.2 676.7,160.1 671.7,151.8 668.7,149.6 662.7,149.3 658.2,152.1 656.7,155.1 656.4,159.1 657.6,168.1 657.0,180.1 658.7,184.5 663.7,185.5 669.7,184.2 673.3,182.1 678.7,176.9 682.7,175.3 690.7,175.8 700.7,178.0 703.7,179.8 705.2,182.1 705.0,197.1 707.1,204.1 709.6,208.1 713.7,211.1 718.7,212.5 724.7,213.0 730.3,212.1ZM92.5,176.1 99.0,174.1 102.1,170.1 100.9,166.1 95.7,163.2 88.7,162.7 78.4,164.1 72.3,166.1 69.2,169.1 69.1,171.1 70.4,173.1 74.7,175.3 82.7,176.4 92.5,176.1Z"/>
<path fill="#f0966e" fill-rule="evenodd" d="M114.7,112.2 108.7,112.0 104.7,109.6 102.1,105.1 99.0,95.1 95.5,91.1 90.7,89.8 78.7,90.4 73.7,89.7 69.8,87.1 63.4,79.1 59.7,77.5 53.7,77.1 53.7,51.1 167.7,51.1 167.2,64.1 164.7,71.1 161.3,74.1 133.4,92.1 131.9,95.1 134.6,103.1 133.3,107.1 127.1,110.1 114.7,112.2ZM542.7,248.1 525.9,248.1 525.5,243.1 523.7,239.6 512.8,233.1 510.7,230.8 509.6,227.1 510.1,217.1 508.2,207.1 511.5,195.1 510.7,192.5 508.7,190.7 503.2,189.1 487.7,188.2 484.7,186.4 478.7,179.8 472.7,177.2 452.7,178.1 437.7,177.5 421.7,178.6 404.7,175.6 386.7,175.1 371.5,170.1 359.7,160.9 342.7,155.1 335.0,148.1 324.3,142.1 320.4,137.1 319.2,133.1 319.3,129.1 320.7,125.9 322.7,124.0 327.7,122.9 340.7,124.5 344.7,123.1 346.6,121.1 347.0,117.1 344.6,110.1 341.7,103.6 338.7,100.3 332.7,98.3 324.7,99.4 319.8,102.1 313.0,109.1 306.7,110.1 300.7,108.1 289.7,102.2 274.7,101.5 255.7,96.9 241.7,88.9 228.7,89.5 224.7,88.8 218.7,84.4 215.3,79.1 216.8,66.1 216.4,51.1 296.9,51.1 296.2,64.1 296.7,69.1 299.7,73.3 305.7,75.2 311.7,73.8 315.2,70.1 316.2,65.1 315.3,51.1 399.8,51.1 398.7,78.1 400.2,83.1 403.7,86.3 408.7,87.7 420.7,86.8 434.7,88.1 438.7,86.8 446.7,79.7 451.7,78.5 457.7,78.7 462.7,80.9 468.6,88.1 473.1,91.1 485.7,96.8 508.3,105.1 510.8,107.1 512.1,110.1 509.0,123.1 510.3,128.1 513.2,133.1 526.7,148.4 551.7,159.4 556.3,163.1 558.8,167.1 560.4,174.1 559.9,179.1 556.7,182.0 547.7,185.3 543.7,188.1 542.3,192.1 543.8,196.1 548.7,198.9 555.7,199.9 576.7,197.7 583.7,198.0 589.2,200.1 591.7,204.1 591.3,207.1 589.7,209.1 579.0,214.1 575.5,217.1 574.6,221.1 575.4,229.1 573.6,233.1 567.7,236.0 553.7,235.8 548.7,236.7 544.7,240.3 543.4,248.1 542.7,248.1ZM735.7,75.2 719.7,76.0 710.9,74.1 702.7,65.7 690.9,59.1 689.4,56.1 689.0,51.1 787.7,51.1 787.7,74.4 735.7,75.2ZM786.7,165.1 782.7,164.8 778.7,163.1 770.2,154.1 769.8,150.1 773.0,142.1 773.7,137.1 773.1,132.1 770.7,128.1 766.7,125.9 756.7,123.2 753.5,115.1 749.7,111.8 743.7,111.2 729.7,113.2 724.5,112.1 721.0,108.1 721.1,105.1 722.3,103.1 734.7,96.6 742.7,90.6 747.7,88.7 787.7,88.6 787.7,165.0 786.7,165.1ZM422.5,125.1 427.9,123.1 430.9,119.1 431.1,113.1 428.2,107.1 422.1,102.1 414.7,99.2 407.7,98.7 402.7,100.8 400.7,103.1 399.7,106.1 401.6,111.1 409.8,117.1 415.7,123.9 418.7,125.1 422.5,125.1ZM57.7,161.1 53.7,161.1 53.7,121.8 65.7,122.8 71.7,126.0 73.7,130.1 74.0,140.1 75.0,144.1 85.5,155.1 84.5,157.1 78.9,159.1 57.7,161.1ZM694.7,139.2 688.7,139.0 676.1,136.1 673.3,134.1 673.4,131.1 678.7,124.7 684.7,121.5 693.7,121.8 704.0,125.1 706.4,128.1 705.4,132.1 700.1,137.1 694.7,139.2ZM745.7,149.3 739.7,149.5 736.7,147.5 735.2,141.1 735.4,134.1 737.3,130.1 740.7,127.6 746.7,125.9 751.7,125.9 753.7,127.0 754.5,129.1 754.7,142.4 751.7,147.0 745.7,149.3ZM449.0,151.1 456.7,148.7 462.0,144.1 463.9,140.1 464.6,135.1 463.7,132.3 461.7,130.5 456.7,128.9 449.7,128.7 444.7,130.2 441.7,133.1 440.1,140.1 440.3,149.1 442.7,151.2 449.0,151.1ZM598.7,175.4 592.7,175.5 588.8,172.1 587.4,164.1 588.1,161.1 589.7,159.4 592.7,158.5 597.7,159.1 601.7,161.0 604.3,164.1 605.1,167.1 604.4,170.1 602.3,173.1 598.7,175.4ZM787.7,208.3 777.7,207.6 770.4,204.1 768.6,199.1 770.7,193.1 775.7,190.3 787.7,189.6 787.7,208.3ZM167.7,248.1 82.8,248.1 82.8,247.1 83.2,244.1 85.3,241.1 93.7,236.4 98.7,235.7 111.7,236.5 129.7,233.7 156.7,235.7 161.7,236.7 165.7,239.1 167.7,241.7 168.7,247.1 168.7,248.1 167.7,248.1ZM218.7,248.1 198.0,248.1 198.8,241.1 202.7,236.0 205.7,235.0 209.7,235.6 216.8,241.1 218.4,244.1 218.7,248.1Z"/>
<path fill="#f06e5a" fill-rule="evenodd" d="M118.7,102.4 113.7,102.4 109.7,100.4 106.7,96.9 102.7,89.0 99.3,86.1 94.7,85.0 78.1,85.1 74.5,83.1 69.7,76.6 66.7,74.2 61.7,72.7 53.7,72.3 53.7,51.1 133.7,51.1 134.2,56.1 136.7,59.8 152.1,65.1 153.0,68.1 150.2,72.1 124.4,89.1 122.1,93.1 120.7,100.5 118.7,102.4ZM386.7,113.1 371.7,112.6 360.7,114.1 355.7,112.8 352.7,110.3 350.2,106.1 345.6,89.1 345.8,84.1 347.7,80.0 351.1,77.1 360.7,72.2 366.9,66.1 374.7,60.4 377.6,56.1 378.2,51.1 393.2,51.1 392.1,79.1 396.0,94.1 391.3,110.1 389.7,112.0 386.7,113.1ZM481.7,123.1 466.7,123.9 449.7,123.0 444.4,121.1 442.9,117.1 445.8,113.1 459.6,108.1 467.1,100.1 469.7,99.1 473.7,99.2 492.5,105.1 495.8,107.1 497.9,110.1 497.2,115.1 493.7,119.9 488.9,122.1 481.7,123.1ZM59.7,150.1 53.7,150.2 53.7,126.8 62.9,128.1 65.9,130.1 67.5,133.1 67.9,138.1 66.6,147.1 64.7,149.2 59.7,150.1ZM505.7,183.1 498.7,183.3 493.7,181.9 483.7,172.2 477.7,169.9 453.7,174.4 436.7,172.3 419.7,174.8 405.7,172.9 390.7,172.8 383.7,171.7 376.7,169.1 371.5,165.1 363.6,152.1 363.4,147.1 365.2,142.1 367.5,139.1 370.8,137.1 376.7,135.5 396.7,134.6 419.7,136.9 427.7,136.9 430.3,138.1 431.7,141.1 430.2,150.1 430.8,155.1 433.7,159.0 437.7,160.2 460.8,150.1 465.0,146.1 470.7,137.4 473.7,135.4 480.7,134.6 493.7,136.2 514.7,144.5 518.7,148.1 523.6,155.1 522.8,158.1 517.7,163.1 514.3,168.1 511.3,180.1 508.9,182.1 505.7,183.1ZM549.7,177.2 544.4,177.1 540.7,174.4 539.2,168.1 540.7,163.5 543.7,162.6 547.7,163.0 551.7,164.7 554.0,167.1 555.0,170.1 554.7,173.1 552.7,175.9 549.7,177.2ZM787.7,201.4 782.3,201.1 780.9,200.1 780.6,198.1 783.7,196.3 787.7,196.3 787.7,201.4Z"/>
<path fill="#eb4141" fill-rule="evenodd" d="M422.7,170.3 390.7,170.0 380.7,167.3 377.7,164.9 375.8,161.1 375.2,150.1 376.0,146.1 377.7,143.8 380.7,142.0 390.7,139.9 402.7,140.2 412.0,143.1 421.0,150.1 427.6,163.1 427.8,167.1 422.7,170.3ZM500.7,175.2 496.7,173.6 485.7,162.1 481.7,160.2 474.7,161.4 462.7,168.2 455.7,170.5 447.7,169.6 445.1,168.1 444.2,166.1 445.7,163.1 449.0,160.1 465.2,152.1 474.7,141.5 478.7,140.0 485.1,140.1 508.7,148.1 512.0,150.1 514.2,153.1 514.4,157.1 512.5,161.1 503.7,173.7 500.7,175.2Z"/>
<path fill="#eb0f0f" fill-rule="evenodd" d="M397.7,166.2 388.7,166.0 384.7,164.1 383.1,162.1 382.4,158.1 383.7,152.1 385.4,149.1 388.2,147.1 395.7,145.5 404.0,147.1 413.7,154.3 418.2,161.1 417.7,163.8 415.4,165.1 397.7,166.2ZM502.7,163.4 498.7,163.6 494.9,161.1 492.1,156.1 492.5,152.1 494.7,151.0 499.7,150.8 503.7,151.7 506.7,153.6 507.9,156.1 507.6,158.1 505.7,161.2 502.7,163.4Z"/>
<polygon fill="#f06e5a" points="338.8,50.6 348.6,50.6 348.6,66.4 352.4,66.4 352.4,92.6 357.9,93.7 358.4,113.3 357.4,115.5 344.3,93.7 339.3,75.1"/>
<polygon fill="#fff" points="348.7,50.6 348.7,55.0 349.0,66.0 353.0,66.0 353.5,86.0 356.0,92.0 362.0,104.0 366.0,112.0 367.0,126.5 408.0,126.5 408.0,119.0 418.0,112.0 426.0,102.0 433.0,94.0 436.0,88.0 446.0,81.0 446.0,50.6"/>
<polygon fill="#fff" points="472.4,50.6 472.4,81.7 491.0,81.7 491.0,74.0 497.0,60.0 497.0,50.6"/>
<polygon fill="#fff" points="787.5,50.6 772.0,50.6 757.2,56.0 757.2,92.8 761.6,92.8 765.4,109.0 766.0,132.0 782.0,132.0 787.5,129.0"/>
<polygon fill="#fff" points="53.2,50.6 136.0,50.6 133.0,62.0 117.0,68.0 110.0,76.0 102.0,82.0 101.0,92.0 97.0,100.0 90.0,110.0 84.0,118.0 79.0,126.0 70.0,132.0 64.0,140.0 53.2,146.0"/>
<polygon fill="#fff" points="133.6,50.6 131.6,54.9 130.1,60.2 127.0,63.3 121.7,64.0 117.1,65.5 114.1,67.8 108.7,69.4 104.1,73.2 100.3,78.5 99.6,84.6 99.6,90.7 95.8,96.8 91.2,103.7 86.6,109.0 82.8,115.1 78.2,121.2 71.4,123.5 64.5,122.7 59.9,119.7 59.2,122.7 63.7,125.0 64.5,130.4 66.0,133.4 63.7,138.0 59.2,141.8 54.6,143.3 53.2,143.8 53.2,50.6"/>
<polyline fill="none" stroke="#000" stroke-width="3.2" stroke-linejoin="round" stroke-linecap="round" points="133.6,50.6 131.6,54.9 130.1,60.2 127.0,63.3 121.7,64.0 117.1,65.5 114.1,67.8 108.7,69.4 104.1,73.2 100.3,78.5 99.6,84.6 99.6,90.7 95.8,96.8 91.2,103.7 86.6,109.0 82.8,115.1 78.2,121.2 71.4,123.5 64.5,122.7 59.9,119.7 59.2,122.7 63.7,125.0 64.5,130.4 66.0,133.4 63.7,138.0 59.2,141.8 54.6,143.3 53.2,143.8"/>
<polygon fill="#fff" points="352.0,50.6 357.5,61.8 358.2,75.5 361.0,87.9 366.5,94.8 371.3,107.1 370.6,114.0 374.0,119.5 378.8,123.0 387.8,120.2 398.8,119.5 407.0,117.5 415.3,109.9 423.5,100.3 429.0,93.4 431.8,86.5 431.8,79.6 434.5,76.9 441.4,73.4 442.8,65.9 441.4,56.3 440.0,50.6"/>
<polyline fill="none" stroke="#000" stroke-width="3.2" stroke-linejoin="round" stroke-linecap="round" points="352.0,50.6 357.5,61.8 358.2,75.5 361.0,87.9 366.5,94.8 371.3,107.1 370.6,114.0 374.0,119.5 378.8,123.0 387.8,120.2 398.8,119.5 407.0,117.5 415.3,109.9 423.5,100.3 429.0,93.4 431.8,86.5 431.8,79.6 434.5,76.9 441.4,73.4 442.8,65.9 441.4,56.3 440.0,50.6"/>
<polygon fill="#fff" points="476.5,50.6 473.7,61.8 475.8,72.8 481.3,78.3 488.2,76.2 490.2,72.8 493.7,60.4 496.4,50.6"/>
<polyline fill="none" stroke="#000" stroke-width="3.2" stroke-linejoin="round" stroke-linecap="round" points="476.5,50.6 473.7,61.8 475.8,72.8 481.3,78.3 488.2,76.2 490.2,72.8 493.7,60.4 496.4,50.6"/>
<polygon fill="#fff" points="787.5,51.3 779.9,53.2 771.7,55.1 768.6,58.2 763.5,60.1 761.6,62.6 761.0,67.6 760.4,73.9 761.6,80.2 762.9,85.2 765.4,91.5 767.9,97.8 769.8,105.3 770.4,112.9 767.9,119.2 770.4,122.9 774.8,124.8 781.1,124.2 785.5,121.7 787.5,121.0"/>
<polyline fill="none" stroke="#000" stroke-width="3.2" stroke-linejoin="round" stroke-linecap="round" points="787.5,51.3 779.9,53.2 771.7,55.1 768.6,58.2 763.5,60.1 761.6,62.6 761.0,67.6 760.4,73.9 761.6,80.2 762.9,85.2 765.4,91.5 767.9,97.8 769.8,105.3 770.4,112.9 767.9,119.2 770.4,122.9 774.8,124.8 781.1,124.2 785.5,121.7 787.5,121.0"/>
<path d="M55,205.5 C57,203.5 61,203.3 63.2,205.8 C64.5,208 62.5,211.2 59,211.3 C56.5,211.3 54.5,210 53.5,209 Z" fill="#000"/>
<path d="M142.8,219 C145.5,218.8 149,220 151.6,222.8" fill="none" stroke="#000" stroke-width="5.2" stroke-linecap="round"/>
<path d="M578.3,192.3 C579.5,190.3 582,190.8 582.8,193.2 C584.2,191.8 587.3,192.3 587.2,194.6 C586.8,197.2 583.2,198.8 580.2,198.4 C577.8,198 577.3,194.2 578.3,192.3 Z" fill="#000"/>
<path d="M524.3,53.7 a2.8,2.8 0 1,0 0.01,0 Z" fill="#000"/>
<path d="M532.6,50.5 a2.6,2.6 0 1,0 0.01,0 Z" fill="#000"/>
</g>
<rect x="460.1" y="143" width="79.6" height="50" fill="none" stroke="#000" stroke-width="5.8"/>
<rect x="53.2" y="50.6" width="734.3" height="197.70000000000002" fill="none" stroke="#000" stroke-width="3.2"/>
<line x1="45.2" y1="50.6" x2="53.2" y2="50.6" stroke="#000" stroke-width="3" stroke-linecap="round"/>
<text x="41" y="60.0" text-anchor="end" class="ax" textLength="37.7" lengthAdjust="spacingAndGlyphs">20S</text>
<line x1="45.2" y1="100.025" x2="53.2" y2="100.025" stroke="#000" stroke-width="3" stroke-linecap="round"/>
<text x="41" y="109.4" text-anchor="end" class="ax" textLength="37.7" lengthAdjust="spacingAndGlyphs">30S</text>
<line x1="45.2" y1="149.45000000000002" x2="53.2" y2="149.45000000000002" stroke="#000" stroke-width="3" stroke-linecap="round"/>
<text x="41" y="158.9" text-anchor="end" class="ax" textLength="37.7" lengthAdjust="spacingAndGlyphs">40S</text>
<line x1="45.2" y1="198.87500000000003" x2="53.2" y2="198.87500000000003" stroke="#000" stroke-width="3" stroke-linecap="round"/>
<text x="41" y="208.3" text-anchor="end" class="ax" textLength="37.7" lengthAdjust="spacingAndGlyphs">50S</text>
<line x1="45.2" y1="248.3" x2="53.2" y2="248.3" stroke="#000" stroke-width="3" stroke-linecap="round"/>
<text x="41" y="257.7" text-anchor="end" class="ax" textLength="37.7" lengthAdjust="spacingAndGlyphs">60S</text>
<line x1="53.2" y1="248.3" x2="53.2" y2="255.6" stroke="#000" stroke-width="3" stroke-linecap="round"/>
<text x="53.2" y="276.2" text-anchor="middle" class="ax" textLength="40.6" lengthAdjust="spacingAndGlyphs">60W</text>
<line x1="175.6" y1="248.3" x2="175.6" y2="255.6" stroke="#000" stroke-width="3" stroke-linecap="round"/>
<text x="175.6" y="276.2" text-anchor="middle" class="ax" textLength="40.4" lengthAdjust="spacingAndGlyphs">30W</text>
<line x1="298.0" y1="248.3" x2="298.0" y2="255.6" stroke="#000" stroke-width="3" stroke-linecap="round"/>
<text x="298.0" y="276.2" text-anchor="middle" class="ax" textLength="12.5" lengthAdjust="spacingAndGlyphs">0</text>
<line x1="420.3" y1="248.3" x2="420.3" y2="255.6" stroke="#000" stroke-width="3" stroke-linecap="round"/>
<text x="420.3" y="276.2" text-anchor="middle" class="ax" textLength="37.4" lengthAdjust="spacingAndGlyphs">30E</text>
<line x1="542.7" y1="248.3" x2="542.7" y2="255.6" stroke="#000" stroke-width="3" stroke-linecap="round"/>
<text x="542.7" y="276.2" text-anchor="middle" class="ax" textLength="37.0" lengthAdjust="spacingAndGlyphs">60E</text>
<line x1="665.1" y1="248.3" x2="665.1" y2="255.6" stroke="#000" stroke-width="3" stroke-linecap="round"/>
<text x="665.1" y="276.2" text-anchor="middle" class="ax" textLength="37.0" lengthAdjust="spacingAndGlyphs">90E</text>
<line x1="787.5" y1="248.3" x2="787.5" y2="255.6" stroke="#000" stroke-width="3" stroke-linecap="round"/>
<text x="787.5" y="276.2" text-anchor="middle" class="ax" textLength="49.4" lengthAdjust="spacingAndGlyphs">120E</text>
<text x="50.3" y="36.0" class="tl" textLength="39.5" lengthAdjust="spacingAndGlyphs">(c)</text>
<text transform="translate(420.4,34.2) scale(0.82,1)" text-anchor="middle" class="tl" textLength="436.1" lengthAdjust="spacing" word-spacing="3">SST Obs (1999−2003)</text>
<path d="M86,297.25 L142.3,286.7 L142.3,307.8 Z" fill="#0a0af0" stroke="#000" stroke-width="1.5" stroke-linejoin="round"/>
<rect x="142.3" y="286.7" width="55.5" height="21.100000000000023" fill="#3014e6" stroke="#000" stroke-width="1.5"/>
<rect x="197.8" y="286.7" width="55.5" height="21.100000000000023" fill="#4038e8" stroke="#000" stroke-width="1.5"/>
<rect x="253.3" y="286.7" width="55.5" height="21.100000000000023" fill="#5464eb" stroke="#000" stroke-width="1.5"/>
<rect x="308.8" y="286.7" width="55.5" height="21.100000000000023" fill="#6490eb" stroke="#000" stroke-width="1.5"/>
<rect x="364.3" y="286.7" width="55.5" height="21.100000000000023" fill="#bceeee" stroke="#000" stroke-width="1.5"/>
<rect x="419.8" y="286.7" width="55.5" height="21.100000000000023" fill="#f0eec0" stroke="#000" stroke-width="1.5"/>
<rect x="475.3" y="286.7" width="55.5" height="21.100000000000023" fill="#f0966e" stroke="#000" stroke-width="1.5"/>
<rect x="530.8" y="286.7" width="55.5" height="21.100000000000023" fill="#f06e5a" stroke="#000" stroke-width="1.5"/>
<rect x="586.3" y="286.7" width="55.5" height="21.100000000000023" fill="#eb4141" stroke="#000" stroke-width="1.5"/>
<rect x="641.8" y="286.7" width="55.5" height="21.100000000000023" fill="#eb0f0f" stroke="#000" stroke-width="1.5"/>
<path d="M754,297.25 L697.3,286.7 L697.3,307.8 Z" fill="#ec0c0c" stroke="#000" stroke-width="1.5" stroke-linejoin="round"/>
<text x="142.9" y="326" text-anchor="middle" class="cb" textLength="44.7" lengthAdjust="spacingAndGlyphs">−0.5</text>
<text x="198.4" y="326" text-anchor="middle" class="cb" textLength="43.5" lengthAdjust="spacingAndGlyphs">−0.4</text>
<text x="253.9" y="326" text-anchor="middle" class="cb" textLength="43.5" lengthAdjust="spacingAndGlyphs">−0.3</text>
<text x="309.4" y="326" text-anchor="middle" class="cb" textLength="43.5" lengthAdjust="spacingAndGlyphs">−0.2</text>
<text x="364.9" y="326" text-anchor="middle" class="cb" textLength="42.1" lengthAdjust="spacingAndGlyphs">−0.1</text>
<text x="420.4" y="326" text-anchor="middle" class="cb" textLength="13.8" lengthAdjust="spacingAndGlyphs">0</text>
<text x="475.9" y="326" text-anchor="middle" class="cb" textLength="27.6" lengthAdjust="spacingAndGlyphs">0.1</text>
<text x="531.4" y="326" text-anchor="middle" class="cb" textLength="30.6" lengthAdjust="spacingAndGlyphs">0.2</text>
<text x="586.9" y="326" text-anchor="middle" class="cb" textLength="29.8" lengthAdjust="spacingAndGlyphs">0.3</text>
<text x="642.4" y="326" text-anchor="middle" class="cb" textLength="30.0" lengthAdjust="spacingAndGlyphs">0.4</text>
<text x="697.9" y="326" text-anchor="middle" class="cb" textLength="29.8" lengthAdjust="spacingAndGlyphs">0.5</text>
</g>
<g transform="translate(833.9,339.2)">
<clipPath id="clipd"><rect x="53.2" y="50.6" width="734.3" height="197.70000000000002"/></clipPath>
<g clip-path="url(#clipd)">
<rect x="53.2" y="50.6" width="734.3" height="197.70000000000002" fill="#0a0af0"/>
<rect x="53.2" y="50.6" width="734.3" height="197.70000000000002" fill="#3014e6"/>
<rect x="53.2" y="50.6" width="734.3" height="197.70000000000002" fill="#4038e8"/>
<path fill="#5464eb" fill-rule="evenodd" d="M787.7,248.1 53.7,248.2 53.7,51.1 787.7,51.1 787.7,248.1ZM227.1,150.1 230.8,146.1 230.6,144.1 228.7,142.5 225.7,141.7 221.7,142.1 217.4,145.1 217.5,148.1 219.7,150.2 223.7,151.0 227.1,150.1Z"/>
<path fill="#6490eb" fill-rule="evenodd" d="M787.7,248.1 705.9,248.1 705.3,241.1 702.9,237.1 698.7,235.1 691.7,234.4 681.7,235.2 676.5,237.1 674.2,241.1 673.8,248.1 53.7,248.1 53.7,114.0 73.7,111.6 77.7,112.3 81.7,114.4 85.3,119.1 86.0,124.1 84.9,129.1 81.3,136.1 81.0,139.1 83.7,142.4 88.7,143.1 96.7,135.7 107.7,130.2 110.5,127.1 110.7,124.6 109.5,122.1 99.9,113.1 98.8,107.1 101.7,102.3 112.3,96.1 113.8,92.1 112.8,89.1 110.7,86.4 105.7,84.2 100.7,84.6 89.6,89.1 78.7,88.3 72.7,85.1 67.7,78.8 64.7,76.5 60.6,75.1 53.7,74.7 53.7,51.1 787.7,51.1 787.7,248.1ZM173.3,125.1 176.7,123.5 178.7,121.3 179.2,119.1 178.2,117.1 171.7,114.1 165.7,112.8 162.7,113.3 162.1,118.1 164.1,123.1 167.7,125.2 173.3,125.1ZM224.7,154.1 229.7,152.1 234.0,148.1 235.0,144.1 232.3,141.1 227.7,139.6 221.7,139.8 216.7,141.5 213.6,144.1 212.8,148.1 215.2,152.1 219.7,154.2 224.7,154.1Z"/>
<path fill="#bceeee" fill-rule="evenodd" d="M639.7,248.1 53.7,248.1 53.7,123.7 65.7,123.9 69.6,125.1 71.2,128.1 69.8,139.1 70.9,143.1 75.9,146.1 89.7,150.6 91.7,150.3 93.7,148.6 97.8,141.1 100.6,138.1 111.5,132.1 114.9,129.1 116.5,125.1 116.2,121.1 114.2,118.1 107.2,112.1 105.8,108.1 107.1,105.1 115.6,99.1 118.2,95.1 118.2,90.1 114.7,79.1 120.4,68.1 118.4,65.1 107.7,61.6 103.7,59.1 101.9,56.1 101.3,51.1 787.7,51.1 787.7,184.7 778.7,185.2 772.9,188.1 771.2,192.1 771.7,202.1 770.5,206.1 767.7,208.8 758.0,214.1 751.7,221.0 748.7,222.9 738.7,224.3 715.7,222.1 693.7,224.8 674.7,222.1 664.7,222.6 659.9,225.1 653.7,233.7 642.1,240.1 640.3,243.1 639.7,248.1ZM215.1,96.1 217.7,94.7 218.8,92.1 218.7,87.1 217.3,83.1 213.7,79.4 204.7,73.8 194.7,64.8 187.7,62.5 177.7,62.0 169.7,63.4 166.0,66.1 165.7,68.1 167.4,71.1 180.7,80.4 194.7,86.1 204.8,95.1 209.7,96.4 215.1,96.1ZM456.2,99.1 459.7,96.9 465.7,90.1 479.7,79.3 491.7,73.0 493.9,69.1 492.5,65.1 488.7,62.7 482.7,61.8 468.7,63.3 453.7,62.8 449.7,63.7 446.7,65.6 444.4,70.1 445.1,81.1 443.3,90.1 443.6,94.1 445.3,97.1 448.4,99.1 452.7,99.8 456.2,99.1ZM169.8,130.1 175.7,128.6 181.0,125.1 183.9,120.1 183.4,116.1 179.7,113.2 169.1,109.1 161.7,103.5 158.7,102.6 155.7,103.1 153.4,105.1 152.9,108.1 159.0,126.1 162.7,129.4 169.8,130.1ZM224.8,157.1 232.7,153.2 237.7,148.1 238.7,143.3 236.0,140.1 229.7,137.9 221.7,137.9 214.4,140.1 209.7,144.1 208.7,150.1 211.7,154.9 217.7,157.6 224.8,157.1Z"/>
<path fill="#f0eec0" fill-rule="evenodd" d="M442.7,248.1 412.1,248.1 412.6,242.1 415.5,234.1 415.5,230.1 407.7,213.9 403.7,210.2 398.7,211.5 394.3,216.1 393.4,220.1 395.1,230.1 393.5,233.1 390.8,235.1 383.7,236.7 356.7,236.4 350.4,234.1 344.4,226.1 340.7,223.8 336.7,223.2 323.7,224.2 318.7,223.0 314.9,219.1 312.6,212.1 309.5,210.1 296.7,208.3 275.7,209.4 268.6,208.1 264.9,205.1 263.1,196.1 261.7,193.1 258.7,190.7 254.7,189.9 247.0,192.1 235.3,202.1 234.0,206.1 234.3,217.1 230.0,224.1 229.2,227.1 230.6,230.1 233.7,232.8 237.7,235.1 241.7,236.0 245.7,234.1 250.7,227.2 253.7,224.9 257.7,223.8 262.7,224.9 266.0,228.1 267.2,232.1 265.5,248.1 53.7,248.1 53.7,185.1 64.7,183.7 67.8,182.1 69.9,179.1 68.7,176.4 65.7,174.6 60.7,173.3 53.7,172.9 53.7,161.4 61.7,160.3 71.7,152.6 78.7,152.4 83.6,155.1 85.4,158.1 83.9,168.1 85.1,172.1 88.0,174.1 92.7,175.2 95.7,174.9 98.5,173.1 99.9,168.1 98.1,153.1 100.0,144.1 104.0,139.1 118.0,131.1 122.1,123.1 122.3,116.1 115.5,108.1 116.3,106.1 121.2,101.1 122.9,97.1 123.3,92.1 121.8,83.1 122.4,80.1 135.1,66.1 141.7,63.0 145.7,63.2 149.7,64.9 156.9,74.1 168.4,81.1 175.7,87.3 190.7,89.8 199.7,97.3 214.7,101.4 224.7,109.1 243.7,114.6 246.5,113.1 247.9,110.1 248.7,97.1 249.8,93.1 252.7,89.6 257.7,87.6 272.7,87.8 287.7,85.9 292.7,86.9 296.4,89.1 298.5,92.1 297.7,95.1 285.7,101.3 282.0,105.1 281.7,107.1 282.7,108.9 287.7,110.6 299.7,111.1 307.7,109.8 325.7,100.1 329.3,97.1 330.1,93.1 328.1,90.1 317.7,84.3 294.6,66.1 283.7,59.8 281.4,56.1 280.9,51.1 395.8,51.1 395.8,78.1 396.6,90.1 394.7,96.2 390.7,99.1 385.7,100.2 364.7,98.4 355.7,99.1 348.7,102.1 347.0,104.1 346.7,107.1 349.7,111.1 354.7,113.8 358.7,114.3 370.7,113.0 376.7,114.7 379.2,117.1 380.2,120.1 378.2,128.1 378.5,131.1 382.5,136.1 387.7,137.9 399.7,134.7 406.7,135.3 410.8,138.1 416.6,149.1 419.7,151.2 422.7,148.7 426.1,135.1 428.7,130.8 434.7,127.5 444.7,125.5 483.7,124.1 488.7,125.8 494.4,131.1 497.7,132.8 517.7,138.0 521.7,137.8 524.0,136.1 525.6,133.1 526.1,120.1 528.5,115.1 534.7,112.3 549.7,112.6 555.7,110.7 559.1,106.1 559.2,93.1 561.4,90.1 565.7,88.0 572.7,87.3 600.7,87.9 605.0,90.1 611.9,98.1 617.7,100.4 635.7,100.1 654.7,101.6 664.7,101.3 669.7,99.7 672.6,97.1 673.3,94.1 671.7,90.9 665.7,87.8 649.7,87.8 644.7,86.5 640.8,82.1 640.9,79.1 642.3,77.1 646.7,74.7 654.7,73.7 683.7,75.4 729.7,75.4 735.6,73.1 738.6,69.1 739.2,64.1 738.3,51.1 787.7,51.1 787.7,137.5 751.7,137.7 734.7,136.6 729.7,137.1 725.2,139.1 722.7,142.1 721.8,145.1 722.2,156.1 720.6,173.1 708.7,176.3 705.7,178.6 700.7,184.8 697.7,186.6 692.7,187.0 677.7,185.2 674.7,185.6 672.7,187.1 672.4,190.1 674.2,194.1 684.8,201.1 687.6,204.1 688.4,208.1 685.7,211.6 681.7,213.0 675.7,213.4 654.7,211.3 588.7,212.0 563.7,210.3 560.2,209.1 557.4,202.1 553.7,198.9 545.7,197.0 534.7,196.8 530.7,198.0 528.6,200.1 527.1,205.1 527.7,209.4 531.7,210.9 556.7,211.8 558.5,215.1 558.0,223.1 539.7,224.8 533.7,224.5 530.7,223.3 528.4,221.1 524.7,212.4 507.7,209.7 502.7,209.9 488.7,213.7 467.7,214.2 458.8,218.1 451.5,224.1 449.3,228.1 444.1,243.1 443.6,248.1 442.7,248.1ZM173.3,135.1 180.7,130.6 186.1,125.1 189.0,118.1 188.1,112.1 185.7,110.5 172.8,107.1 165.7,99.5 162.7,97.9 155.7,97.2 149.7,98.6 146.8,102.1 146.6,106.1 152.1,118.1 154.7,130.9 157.3,133.1 161.7,134.6 168.7,135.6 173.3,135.1ZM219.1,162.1 228.7,158.6 238.7,151.5 243.0,145.1 243.1,142.1 241.9,140.1 234.7,136.7 223.7,135.9 213.7,138.0 207.0,142.1 204.7,145.1 202.9,150.1 202.5,154.1 203.5,157.1 205.7,159.5 209.7,161.7 213.7,162.5 219.1,162.1ZM733.7,187.3 728.7,187.2 724.7,184.7 722.1,180.1 721.7,174.3 736.7,172.1 738.7,170.2 741.8,164.1 745.4,161.1 752.7,159.8 767.7,160.9 787.7,160.8 787.7,176.1 755.7,174.8 744.7,175.4 741.6,177.1 737.5,185.1 733.7,187.3ZM213.6,222.1 215.7,220.5 216.4,218.1 214.5,205.1 217.3,197.1 217.0,193.1 214.3,190.1 205.7,184.3 197.7,175.9 191.7,174.4 186.7,175.5 182.8,180.1 180.8,188.1 181.6,191.1 185.9,198.1 189.1,210.1 192.1,213.1 204.7,221.0 209.7,222.6 213.6,222.1ZM714.7,213.1 708.7,211.7 706.9,210.1 705.9,207.1 706.1,204.1 707.7,200.9 710.7,198.6 713.7,197.9 717.7,198.5 720.5,200.1 723.0,203.1 724.0,206.1 723.6,209.1 722.0,211.1 714.7,213.1ZM607.7,248.1 541.4,248.1 541.3,246.1 543.7,241.1 555.4,234.1 557.3,231.1 558.9,225.1 561.7,224.0 567.7,224.7 572.7,226.5 580.5,234.1 583.7,235.7 598.7,235.5 603.7,236.8 607.3,241.1 607.7,248.1Z"/>
<path fill="#f0966e" fill-rule="evenodd" d="M179.7,103.2 177.2,102.1 177.7,99.7 181.7,98.0 184.7,98.7 183.9,101.1 179.7,103.2ZM193.7,148.4 189.7,148.8 186.1,147.1 183.7,143.1 183.5,139.1 185.5,134.1 198.1,117.1 198.4,107.1 200.8,104.1 206.7,103.3 211.7,104.7 219.4,111.1 234.7,117.2 243.2,124.1 246.2,128.1 246.5,132.1 243.7,134.0 222.7,134.2 209.7,137.0 203.7,140.1 193.7,148.4ZM147.7,175.1 122.7,175.6 111.7,173.5 108.7,171.2 106.7,167.9 102.4,152.1 102.7,146.1 104.8,142.1 108.7,139.2 118.1,135.1 122.3,132.1 133.7,112.9 137.7,110.1 142.7,112.3 146.8,118.1 147.8,122.1 147.1,133.1 147.7,136.1 150.7,138.0 162.7,140.6 165.7,142.7 166.9,145.1 166.7,149.1 164.3,156.1 166.0,166.1 165.1,170.1 160.2,173.1 147.7,175.1ZM435.7,236.4 430.7,236.7 427.7,234.6 416.1,217.1 413.3,209.1 413.2,206.1 414.7,203.5 425.7,199.8 429.4,197.1 429.9,193.1 426.7,190.7 419.7,190.0 412.7,191.6 405.7,198.2 396.7,203.5 387.7,210.9 380.7,212.6 368.7,210.4 353.7,209.6 349.0,208.1 346.8,205.1 345.4,194.1 343.7,192.0 339.7,190.5 333.7,191.8 326.7,199.5 321.7,201.7 282.7,203.1 275.7,202.6 270.7,199.9 265.2,191.1 260.7,187.6 252.7,186.3 237.7,190.2 231.7,189.9 215.7,180.1 213.8,177.1 213.9,174.1 218.3,169.1 242.7,152.1 252.7,139.8 264.1,136.1 270.7,126.7 282.7,118.1 290.7,115.9 312.7,115.3 328.7,110.3 333.7,111.1 339.7,114.1 369.7,135.3 375.2,141.1 378.0,149.1 379.7,151.1 382.7,151.8 385.7,151.1 395.7,141.8 399.7,140.1 403.7,140.1 408.0,143.1 414.1,155.1 417.6,158.1 420.7,159.3 423.7,158.8 425.7,156.7 428.7,143.1 430.8,138.1 433.9,135.1 438.7,133.6 443.7,134.0 446.7,135.8 451.2,147.1 455.7,151.7 460.7,152.4 473.7,149.0 489.7,150.2 491.1,151.1 493.9,160.1 496.7,162.3 500.7,163.2 506.9,161.1 509.2,158.1 509.7,155.1 508.7,152.6 506.2,151.1 492.7,148.7 492.3,146.1 493.3,142.1 497.7,139.2 502.7,139.1 508.4,141.1 515.3,147.1 523.7,151.7 530.7,160.5 535.7,162.0 540.3,160.1 547.7,151.8 556.8,146.1 563.7,139.1 568.7,136.7 576.7,135.9 583.7,137.2 587.7,140.0 593.7,147.3 599.7,149.4 603.7,148.7 606.5,147.1 611.7,140.1 614.7,137.7 618.7,136.4 624.7,136.0 633.7,137.3 638.7,140.5 640.3,144.1 640.5,155.1 642.0,158.1 644.7,160.6 650.7,162.2 666.7,161.1 670.7,162.7 673.1,166.1 673.2,169.1 671.7,171.6 661.7,177.2 654.7,184.6 650.7,186.0 644.7,184.5 637.0,176.1 631.7,174.3 626.7,175.8 619.7,184.2 614.7,186.6 607.7,187.0 591.7,185.9 569.7,186.6 563.4,184.1 556.7,174.9 551.7,173.5 548.7,174.1 545.7,176.0 540.8,186.1 538.7,187.5 535.7,187.9 532.7,187.2 529.7,185.2 521.7,175.3 518.7,174.1 514.7,174.4 510.5,177.1 508.3,181.1 510.1,193.1 508.7,197.3 498.7,201.5 487.5,208.1 481.7,208.9 464.7,208.9 457.7,210.6 449.7,213.9 445.0,218.1 440.6,232.1 435.7,236.4ZM235.7,248.1 53.7,248.1 53.7,189.8 66.7,189.1 84.7,185.3 108.7,188.2 154.7,187.3 162.7,188.2 177.2,199.1 180.2,204.1 180.1,207.1 178.1,210.1 169.7,214.5 167.0,217.1 165.9,222.1 167.7,225.4 170.7,226.6 174.7,226.7 187.7,221.2 193.7,221.5 205.7,226.9 218.7,230.4 224.7,233.3 234.2,241.1 236.1,245.1 235.7,248.1Z"/>
<path fill="#f06e5a" fill-rule="evenodd" d="M206.7,134.2 198.7,134.7 197.2,133.1 197.4,131.1 200.7,127.1 208.7,122.8 217.7,116.6 223.7,116.5 229.7,118.5 234.4,122.1 237.4,127.1 236.7,129.6 233.6,131.1 206.7,134.2ZM361.7,201.3 357.7,201.4 354.6,200.1 349.9,191.1 347.7,188.9 338.7,186.9 330.7,188.1 324.2,195.1 319.7,197.1 305.7,196.0 288.7,199.0 278.7,198.6 273.7,196.2 266.7,187.1 261.7,184.0 254.7,182.6 239.7,183.3 232.8,181.1 227.1,176.1 226.5,171.1 228.7,167.1 233.0,163.1 255.7,148.6 260.7,148.2 270.7,151.2 275.7,149.6 278.7,146.8 280.5,143.1 279.3,133.1 281.1,129.1 289.7,122.1 297.7,120.9 319.7,124.1 332.7,122.7 337.7,123.2 341.7,125.2 350.7,132.9 362.8,139.1 365.4,142.1 365.3,144.1 362.7,146.2 352.4,149.1 348.8,151.1 346.7,155.1 346.9,157.1 348.7,158.7 354.7,159.4 370.7,158.6 386.7,160.5 390.7,158.2 398.7,148.6 401.7,147.2 404.7,149.1 408.0,155.1 412.5,160.1 417.7,163.9 427.7,168.8 431.5,174.1 432.5,179.1 431.2,183.1 427.7,185.2 420.7,186.4 404.7,186.1 395.0,178.1 387.7,175.0 382.7,175.3 363.7,179.3 360.6,181.1 359.9,183.1 365.7,192.1 366.6,196.1 365.5,199.1 361.7,201.3ZM312.6,152.1 315.7,150.5 316.7,148.1 316.1,144.1 313.7,140.0 310.7,137.8 306.7,136.8 302.7,137.4 299.7,139.2 298.0,143.1 301.0,148.1 306.7,151.6 312.6,152.1ZM144.7,170.2 125.7,170.5 118.7,169.4 114.7,167.6 110.9,163.1 106.7,153.1 105.9,148.1 107.2,144.1 109.7,141.7 113.7,139.9 127.7,137.3 129.2,138.1 132.6,143.1 135.7,145.0 153.0,148.1 155.1,152.1 155.9,161.1 155.3,165.1 152.3,168.1 144.7,170.2ZM442.7,161.3 438.7,161.7 435.7,160.9 432.4,156.1 431.7,150.1 432.3,145.1 433.7,142.0 436.7,139.6 439.7,139.5 442.7,141.4 446.7,151.1 447.6,155.1 447.1,158.1 442.7,161.3ZM228.7,248.1 53.7,248.1 53.7,223.2 72.7,224.1 80.7,222.4 84.2,220.1 86.3,217.1 86.2,205.1 88.7,200.4 96.7,197.6 108.7,197.6 113.7,199.0 116.3,201.1 118.9,208.1 119.5,214.1 118.4,217.1 116.3,219.1 106.7,223.3 102.9,226.1 102.3,230.1 105.7,232.7 129.7,236.3 156.7,236.2 172.7,233.3 187.7,227.8 193.7,227.2 214.7,233.5 221.7,236.6 227.7,242.1 228.8,245.1 228.7,248.1Z"/>
<path fill="#eb4141" fill-rule="evenodd" d="M224.7,129.2 217.0,129.1 214.6,127.1 218.8,122.1 224.7,120.9 228.7,123.1 230.1,126.1 228.6,128.1 224.7,129.2ZM142.7,165.2 130.7,165.6 120.7,162.3 111.7,152.2 110.5,149.1 111.0,146.1 113.7,143.9 118.7,143.3 121.7,144.4 128.7,149.3 145.7,153.1 148.3,156.1 148.5,160.1 146.7,163.2 142.7,165.2ZM288.7,195.2 282.2,195.1 277.3,193.1 270.7,183.9 265.3,178.1 264.7,176.1 272.1,162.1 287.7,151.0 292.7,151.4 307.7,161.0 321.7,160.6 325.7,161.6 328.2,164.1 331.0,170.1 334.7,171.8 343.7,171.2 353.0,165.1 360.7,163.2 371.7,163.5 375.5,165.1 377.5,167.1 377.3,169.1 373.7,171.9 354.7,176.0 347.7,181.9 343.8,183.1 337.7,183.1 333.0,182.1 325.7,175.0 316.7,175.3 312.5,178.1 310.0,185.1 308.3,187.1 296.3,193.1 288.7,195.2ZM422.7,182.3 414.7,182.8 408.7,180.1 396.6,169.1 396.0,166.1 397.4,163.1 400.7,160.6 403.7,160.5 422.7,172.2 425.4,175.1 426.3,178.1 425.7,180.1 422.7,182.3ZM245.7,177.1 241.7,177.0 237.7,175.7 235.6,174.1 234.1,171.1 234.7,168.1 236.7,165.6 243.7,162.2 246.7,162.5 248.7,164.1 251.3,172.1 250.7,175.2 245.7,177.1ZM221.7,248.1 166.9,248.1 166.8,247.1 168.0,243.1 171.6,240.1 186.7,233.5 193.7,232.3 207.7,235.1 216.7,238.4 221.9,243.1 222.8,247.1 222.7,248.1 221.7,248.1ZM120.7,248.1 99.8,248.1 99.9,245.1 100.9,242.1 103.3,240.1 112.0,239.1 119.6,242.1 121.4,245.1 121.5,248.1 120.7,248.1Z"/>
<path fill="#eb0f0f" fill-rule="evenodd" d="M289.7,189.4 284.7,189.4 281.5,187.1 277.7,173.1 278.1,169.1 280.6,165.1 284.7,162.0 288.7,160.7 292.7,161.7 295.7,164.3 300.0,171.1 301.4,176.1 300.8,180.1 298.7,183.4 294.4,187.1 289.7,189.4ZM215.7,248.1 180.2,248.1 180.1,247.1 181.7,243.1 185.7,240.3 191.7,238.0 197.7,237.4 205.7,238.5 212.4,241.1 215.3,244.1 215.7,248.1Z"/>
<polygon fill="#f0966e" points="334.3,50.6 348.6,50.6 348.6,66.0 352.5,66.0 352.5,84.2 343.9,69.8 335.2,65.0"/>
<polygon fill="#f06e5a" points="348.6,66.0 352.9,66.0 352.9,76.5 349.6,70.8"/>
<polygon fill="#fff" points="348.7,50.6 348.7,55.0 349.0,66.0 353.0,66.0 353.5,86.0 356.0,92.0 362.0,104.0 366.0,112.0 367.0,126.5 408.0,126.5 408.0,119.0 418.0,112.0 426.0,102.0 433.0,94.0 436.0,88.0 446.0,81.0 446.0,50.6"/>
<polygon fill="#fff" points="472.4,50.6 472.4,81.7 491.0,81.7 491.0,74.0 497.0,60.0 497.0,50.6"/>
<polygon fill="#fff" points="787.5,50.6 772.0,50.6 757.2,56.0 757.2,92.8 761.6,92.8 765.4,109.0 766.0,132.0 782.0,132.0 787.5,129.0"/>
<polygon fill="#fff" points="53.2,50.6 136.0,50.6 133.0,62.0 117.0,68.0 110.0,76.0 102.0,82.0 101.0,92.0 97.0,100.0 90.0,110.0 84.0,118.0 79.0,126.0 70.0,132.0 64.0,140.0 53.2,146.0"/>
<polygon fill="#fff" points="133.6,50.6 131.6,54.9 130.1,60.2 127.0,63.3 121.7,64.0 117.1,65.5 114.1,67.8 108.7,69.4 104.1,73.2 100.3,78.5 99.6,84.6 99.6,90.7 95.8,96.8 91.2,103.7 86.6,109.0 82.8,115.1 78.2,121.2 71.4,123.5 64.5,122.7 59.9,119.7 59.2,122.7 63.7,125.0 64.5,130.4 66.0,133.4 63.7,138.0 59.2,141.8 54.6,143.3 53.2,143.8 53.2,50.6"/>
<polyline fill="none" stroke="#000" stroke-width="3.2" stroke-linejoin="round" stroke-linecap="round" points="133.6,50.6 131.6,54.9 130.1,60.2 127.0,63.3 121.7,64.0 117.1,65.5 114.1,67.8 108.7,69.4 104.1,73.2 100.3,78.5 99.6,84.6 99.6,90.7 95.8,96.8 91.2,103.7 86.6,109.0 82.8,115.1 78.2,121.2 71.4,123.5 64.5,122.7 59.9,119.7 59.2,122.7 63.7,125.0 64.5,130.4 66.0,133.4 63.7,138.0 59.2,141.8 54.6,143.3 53.2,143.8"/>
<polygon fill="#fff" points="352.0,50.6 357.5,61.8 358.2,75.5 361.0,87.9 366.5,94.8 371.3,107.1 370.6,114.0 374.0,119.5 378.8,123.0 387.8,120.2 398.8,119.5 407.0,117.5 415.3,109.9 423.5,100.3 429.0,93.4 431.8,86.5 431.8,79.6 434.5,76.9 441.4,73.4 442.8,65.9 441.4,56.3 440.0,50.6"/>
<polyline fill="none" stroke="#000" stroke-width="3.2" stroke-linejoin="round" stroke-linecap="round" points="352.0,50.6 357.5,61.8 358.2,75.5 361.0,87.9 366.5,94.8 371.3,107.1 370.6,114.0 374.0,119.5 378.8,123.0 387.8,120.2 398.8,119.5 407.0,117.5 415.3,109.9 423.5,100.3 429.0,93.4 431.8,86.5 431.8,79.6 434.5,76.9 441.4,73.4 442.8,65.9 441.4,56.3 440.0,50.6"/>
<polygon fill="#fff" points="476.5,50.6 473.7,61.8 475.8,72.8 481.3,78.3 488.2,76.2 490.2,72.8 493.7,60.4 496.4,50.6"/>
<polyline fill="none" stroke="#000" stroke-width="3.2" stroke-linejoin="round" stroke-linecap="round" points="476.5,50.6 473.7,61.8 475.8,72.8 481.3,78.3 488.2,76.2 490.2,72.8 493.7,60.4 496.4,50.6"/>
<polygon fill="#fff" points="787.5,51.3 779.9,53.2 771.7,55.1 768.6,58.2 763.5,60.1 761.6,62.6 761.0,67.6 760.4,73.9 761.6,80.2 762.9,85.2 765.4,91.5 767.9,97.8 769.8,105.3 770.4,112.9 767.9,119.2 770.4,122.9 774.8,124.8 781.1,124.2 785.5,121.7 787.5,121.0"/>
<polyline fill="none" stroke="#000" stroke-width="3.2" stroke-linejoin="round" stroke-linecap="round" points="787.5,51.3 779.9,53.2 771.7,55.1 768.6,58.2 763.5,60.1 761.6,62.6 761.0,67.6 760.4,73.9 761.6,80.2 762.9,85.2 765.4,91.5 767.9,97.8 769.8,105.3 770.4,112.9 767.9,119.2 770.4,122.9 774.8,124.8 781.1,124.2 785.5,121.7 787.5,121.0"/>
<path d="M55,205.5 C57,203.5 61,203.3 63.2,205.8 C64.5,208 62.5,211.2 59,211.3 C56.5,211.3 54.5,210 53.5,209 Z" fill="#000"/>
<path d="M142.8,219 C145.5,218.8 149,220 151.6,222.8" fill="none" stroke="#000" stroke-width="5.2" stroke-linecap="round"/>
<path d="M578.3,192.3 C579.5,190.3 582,190.8 582.8,193.2 C584.2,191.8 587.3,192.3 587.2,194.6 C586.8,197.2 583.2,198.8 580.2,198.4 C577.8,198 577.3,194.2 578.3,192.3 Z" fill="#000"/>
<path d="M524.3,53.7 a2.8,2.8 0 1,0 0.01,0 Z" fill="#000"/>
<path d="M532.6,50.5 a2.6,2.6 0 1,0 0.01,0 Z" fill="#000"/>
</g>
<rect x="460.1" y="143" width="79.6" height="50" fill="none" stroke="#000" stroke-width="5.8"/>
<rect x="53.2" y="50.6" width="734.3" height="197.70000000000002" fill="none" stroke="#000" stroke-width="3.2"/>
<line x1="45.2" y1="50.6" x2="53.2" y2="50.6" stroke="#000" stroke-width="3" stroke-linecap="round"/>
<text x="41" y="60.0" text-anchor="end" class="ax" textLength="37.7" lengthAdjust="spacingAndGlyphs">20S</text>
<line x1="45.2" y1="100.025" x2="53.2" y2="100.025" stroke="#000" stroke-width="3" stroke-linecap="round"/>
<text x="41" y="109.4" text-anchor="end" class="ax" textLength="37.7" lengthAdjust="spacingAndGlyphs">30S</text>
<line x1="45.2" y1="149.45000000000002" x2="53.2" y2="149.45000000000002" stroke="#000" stroke-width="3" stroke-linecap="round"/>
<text x="41" y="158.9" text-anchor="end" class="ax" textLength="37.7" lengthAdjust="spacingAndGlyphs">40S</text>
<line x1="45.2" y1="198.87500000000003" x2="53.2" y2="198.87500000000003" stroke="#000" stroke-width="3" stroke-linecap="round"/>
<text x="41" y="208.3" text-anchor="end" class="ax" textLength="37.7" lengthAdjust="spacingAndGlyphs">50S</text>
<line x1="45.2" y1="248.3" x2="53.2" y2="248.3" stroke="#000" stroke-width="3" stroke-linecap="round"/>
<text x="41" y="257.7" text-anchor="end" class="ax" textLength="37.7" lengthAdjust="spacingAndGlyphs">60S</text>
<line x1="53.2" y1="248.3" x2="53.2" y2="255.6" stroke="#000" stroke-width="3" stroke-linecap="round"/>
<text x="53.2" y="276.2" text-anchor="middle" class="ax" textLength="40.6" lengthAdjust="spacingAndGlyphs">60W</text>
<line x1="175.6" y1="248.3" x2="175.6" y2="255.6" stroke="#000" stroke-width="3" stroke-linecap="round"/>
<text x="175.6" y="276.2" text-anchor="middle" class="ax" textLength="40.4" lengthAdjust="spacingAndGlyphs">30W</text>
<line x1="298.0" y1="248.3" x2="298.0" y2="255.6" stroke="#000" stroke-width="3" stroke-linecap="round"/>
<text x="298.0" y="276.2" text-anchor="middle" class="ax" textLength="12.5" lengthAdjust="spacingAndGlyphs">0</text>
<line x1="420.3" y1="248.3" x2="420.3" y2="255.6" stroke="#000" stroke-width="3" stroke-linecap="round"/>
<text x="420.3" y="276.2" text-anchor="middle" class="ax" textLength="37.4" lengthAdjust="spacingAndGlyphs">30E</text>
<line x1="542.7" y1="248.3" x2="542.7" y2="255.6" stroke="#000" stroke-width="3" stroke-linecap="round"/>
<text x="542.7" y="276.2" text-anchor="middle" class="ax" textLength="37.0" lengthAdjust="spacingAndGlyphs">60E</text>
<line x1="665.1" y1="248.3" x2="665.1" y2="255.6" stroke="#000" stroke-width="3" stroke-linecap="round"/>
<text x="665.1" y="276.2" text-anchor="middle" class="ax" textLength="37.0" lengthAdjust="spacingAndGlyphs">90E</text>
<line x1="787.5" y1="248.3" x2="787.5" y2="255.6" stroke="#000" stroke-width="3" stroke-linecap="round"/>
<text x="787.5" y="276.2" text-anchor="middle" class="ax" textLength="49.4" lengthAdjust="spacingAndGlyphs">120E</text>
<text x="53.3" y="36.0" class="tl" textLength="41.5" lengthAdjust="spacingAndGlyphs">(d)</text>
<text transform="translate(420.4,34.2) scale(0.82,1)" text-anchor="middle" class="tl" textLength="575.9" lengthAdjust="spacing" word-spacing="3">SST F2 12mem (1999−2003)</text>
<path d="M86,297.25 L142.3,286.7 L142.3,307.8 Z" fill="#0a0af0" stroke="#000" stroke-width="1.5" stroke-linejoin="round"/>
<rect x="142.3" y="286.7" width="55.5" height="21.100000000000023" fill="#3014e6" stroke="#000" stroke-width="1.5"/>
<rect x="197.8" y="286.7" width="55.5" height="21.100000000000023" fill="#4038e8" stroke="#000" stroke-width="1.5"/>
<rect x="253.3" y="286.7" width="55.5" height="21.100000000000023" fill="#5464eb" stroke="#000" stroke-width="1.5"/>
<rect x="308.8" y="286.7" width="55.5" height="21.100000000000023" fill="#6490eb" stroke="#000" stroke-width="1.5"/>
<rect x="364.3" y="286.7" width="55.5" height="21.100000000000023" fill="#bceeee" stroke="#000" stroke-width="1.5"/>
<rect x="419.8" y="286.7" width="55.5" height="21.100000000000023" fill="#f0eec0" stroke="#000" stroke-width="1.5"/>
<rect x="475.3" y="286.7" width="55.5" height="21.100000000000023" fill="#f0966e" stroke="#000" stroke-width="1.5"/>
<rect x="530.8" y="286.7" width="55.5" height="21.100000000000023" fill="#f06e5a" stroke="#000" stroke-width="1.5"/>
<rect x="586.3" y="286.7" width="55.5" height="21.100000000000023" fill="#eb4141" stroke="#000" stroke-width="1.5"/>
<rect x="641.8" y="286.7" width="55.5" height="21.100000000000023" fill="#eb0f0f" stroke="#000" stroke-width="1.5"/>
<path d="M754,297.25 L697.3,286.7 L697.3,307.8 Z" fill="#ec0c0c" stroke="#000" stroke-width="1.5" stroke-linejoin="round"/>
<text x="142.9" y="326" text-anchor="middle" class="cb" textLength="44.7" lengthAdjust="spacingAndGlyphs">−0.5</text>
<text x="198.4" y="326" text-anchor="middle" class="cb" textLength="43.5" lengthAdjust="spacingAndGlyphs">−0.4</text>
<text x="253.9" y="326" text-anchor="middle" class="cb" textLength="43.5" lengthAdjust="spacingAndGlyphs">−0.3</text>
<text x="309.4" y="326" text-anchor="middle" class="cb" textLength="43.5" lengthAdjust="spacingAndGlyphs">−0.2</text>
<text x="364.9" y="326" text-anchor="middle" class="cb" textLength="42.1" lengthAdjust="spacingAndGlyphs">−0.1</text>
<text x="420.4" y="326" text-anchor="middle" class="cb" textLength="13.8" lengthAdjust="spacingAndGlyphs">0</text>
<text x="475.9" y="326" text-anchor="middle" class="cb" textLength="27.6" lengthAdjust="spacingAndGlyphs">0.1</text>
<text x="531.4" y="326" text-anchor="middle" class="cb" textLength="30.6" lengthAdjust="spacingAndGlyphs">0.2</text>
<text x="586.9" y="326" text-anchor="middle" class="cb" textLength="29.8" lengthAdjust="spacingAndGlyphs">0.3</text>
<text x="642.4" y="326" text-anchor="middle" class="cb" textLength="30.0" lengthAdjust="spacingAndGlyphs">0.4</text>
<text x="697.9" y="326" text-anchor="middle" class="cb" textLength="29.8" lengthAdjust="spacingAndGlyphs">0.5</text>
</g>
</svg>
</body></html>
